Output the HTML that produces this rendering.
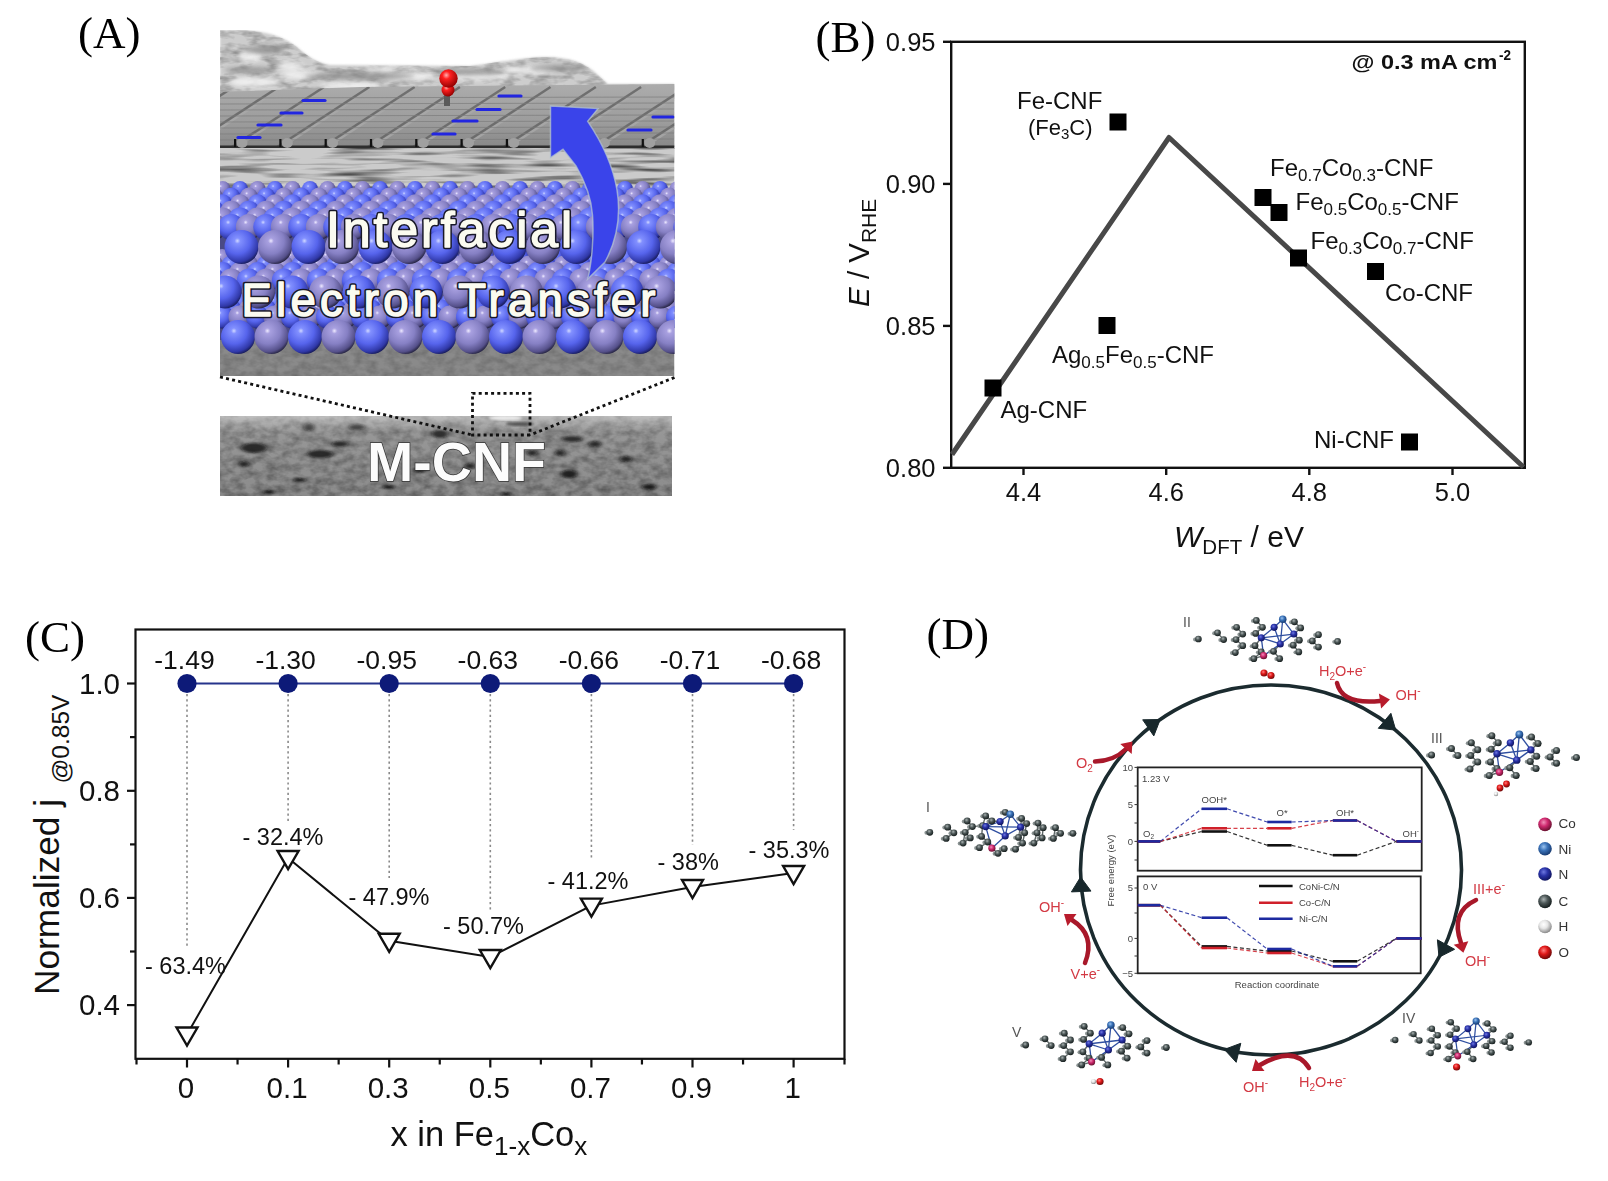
<!DOCTYPE html>
<html><head><meta charset="utf-8"><title>Figure</title>
<style>html,body{margin:0;padding:0;background:#fff;overflow:hidden}svg{display:block}</style>
</head><body>
<svg width="1608" height="1181" viewBox="0 0 1608 1181">
<defs>
<radialGradient id="sB" cx="0.38" cy="0.32" r="0.7"><stop offset="0" stop-color="#d0d8ff"/><stop offset="0.12" stop-color="#8290ff"/><stop offset="0.55" stop-color="#5664ec"/><stop offset="0.88" stop-color="#3038a8"/><stop offset="1" stop-color="#1a1e60"/></radialGradient>
<radialGradient id="sP" cx="0.38" cy="0.32" r="0.7"><stop offset="0" stop-color="#eeeaff"/><stop offset="0.12" stop-color="#a8a0e0"/><stop offset="0.55" stop-color="#8680c4"/><stop offset="0.88" stop-color="#55508a"/><stop offset="1" stop-color="#2a2848"/></radialGradient>
<radialGradient id="sR" cx="0.38" cy="0.32" r="0.7"><stop offset="0" stop-color="#ffb0b0"/><stop offset="0.3" stop-color="#ff2020"/><stop offset="1" stop-color="#900000"/></radialGradient>
<filter id="nz" x="0" y="0" width="1" height="1"><feTurbulence type="fractalNoise" baseFrequency="0.09 0.14" numOctaves="3" seed="3"/><feColorMatrix type="matrix" values="0 0 0 0 0  0 0 0 0 0  0 0 0 0 0  0 0 0 -1.1 0.75"/><feComposite operator="in" in2="SourceAlpha"/></filter>
<filter id="nzc" x="0" y="0" width="1" height="1"><feTurbulence type="fractalNoise" baseFrequency="0.06 0.16" numOctaves="3" seed="11"/><feColorMatrix type="matrix" values="0 0 0 0 0  0 0 0 0 0  0 0 0 0 0  0 0 0 -1.4 0.85"/><feComposite operator="in" in2="SourceAlpha"/></filter>
<filter id="nz2" x="0" y="0" width="1" height="1"><feTurbulence type="fractalNoise" baseFrequency="0.04 0.12" numOctaves="2" seed="8"/><feColorMatrix type="matrix" values="0 0 0 0 1  0 0 0 0 1  0 0 0 0 1  0 0 0 -1.6 1.0"/><feComposite operator="in" in2="SourceAlpha"/></filter>
<linearGradient id="shg" x1="0" y1="0" x2="0" y2="1"><stop offset="0" stop-color="#acacac"/><stop offset="0.6" stop-color="#9c9c9c"/><stop offset="1" stop-color="#868686"/></linearGradient>
<linearGradient id="temg" x1="0" y1="0" x2="0" y2="1"><stop offset="0" stop-color="#fff" stop-opacity="0.45"/><stop offset="0.2" stop-color="#fff" stop-opacity="0.1"/><stop offset="1" stop-color="#fff" stop-opacity="0"/></linearGradient>
<filter id="bl2"><feGaussianBlur stdDeviation="2.2"/></filter>
<filter id="blh" x="-0.5" y="-0.5" width="2" height="2"><feGaussianBlur stdDeviation="2.6 1.1"/></filter>
<filter id="bl1"><feGaussianBlur stdDeviation="1"/></filter>
<clipPath id="cpA"><rect x="220" y="30" width="454.5" height="346"/></clipPath>
<clipPath id="cpC"><path d="M220,30 L240,30 C268,31 284,37 297,47 C307,56 317,63 330,65 L470,66 C500,62 520,58 545,57 C570,57 586,63 598,75 L608,84 L674.5,84 L674.5,160 L220,160 Z"/></clipPath>
<clipPath id="cpS"><path d="M220,92 L360,87 L674.5,84 L674.5,147 L220,149 Z"/></clipPath>
<filter id="nzh" x="0" y="0" width="1" height="1"><feTurbulence type="fractalNoise" baseFrequency="0.015 0.22" numOctaves="2" seed="5"/><feColorMatrix type="matrix" values="0 0 0 0 0  0 0 0 0 0  0 0 0 0 0  0 0 0 -1.8 1.0"/><feComposite operator="in" in2="SourceAlpha"/></filter>
<clipPath id="cpT"><rect x="220" y="416" width="452" height="80"/></clipPath>
<radialGradient id="gC" cx="0.4" cy="0.35" r="0.65"><stop offset="0" stop-color="#aab2b2"/><stop offset="0.45" stop-color="#4e5959"/><stop offset="1" stop-color="#161e1e"/></radialGradient>
<radialGradient id="gN" cx="0.4" cy="0.35" r="0.65"><stop offset="0" stop-color="#6e78e0"/><stop offset="0.45" stop-color="#2a33a8"/><stop offset="1" stop-color="#101560"/></radialGradient>
<radialGradient id="gNi" cx="0.4" cy="0.35" r="0.65"><stop offset="0" stop-color="#9cc4f0"/><stop offset="0.45" stop-color="#3a72b8"/><stop offset="1" stop-color="#173a70"/></radialGradient>
<radialGradient id="gCo" cx="0.4" cy="0.35" r="0.65"><stop offset="0" stop-color="#f090b8"/><stop offset="0.45" stop-color="#d02a70"/><stop offset="1" stop-color="#6a1030"/></radialGradient>
<radialGradient id="gH" cx="0.4" cy="0.35" r="0.65"><stop offset="0" stop-color="#ffffff"/><stop offset="0.45" stop-color="#e6e6e6"/><stop offset="1" stop-color="#8a8a8a"/></radialGradient>
<radialGradient id="gO" cx="0.4" cy="0.35" r="0.65"><stop offset="0" stop-color="#ff8080"/><stop offset="0.45" stop-color="#e01818"/><stop offset="1" stop-color="#700808"/></radialGradient>
<symbol id="mol" overflow="visible">
<g stroke="#5f6868" stroke-width="1.4">
<line x1="-51.0" y1="-6.2" x2="-44.8" y2="0.6"/>
<line x1="-31.7" y1="-11.8" x2="-25.5" y2="-5.0"/>
<line x1="-25.5" y1="-5.0" x2="-32.3" y2="0.6"/>
<line x1="-32.3" y1="0.6" x2="-25.5" y2="6.8"/>
<line x1="-25.5" y1="6.8" x2="-33.0" y2="13.7"/>
<line x1="-11.8" y1="-18.7" x2="-5.6" y2="-11.8"/>
<line x1="-5.6" y1="-11.8" x2="-12.4" y2="-5.6"/>
<line x1="-13.1" y1="6.8" x2="-6.8" y2="13.1"/>
<line x1="-6.8" y1="13.1" x2="-14.3" y2="19.9"/>
<line x1="5.6" y1="12.4" x2="11.8" y2="19.9"/>
<line x1="26.7" y1="-17.4" x2="33.0" y2="-11.2"/>
<line x1="31.7" y1="1.2" x2="25.5" y2="6.2"/>
<line x1="25.5" y1="6.2" x2="31.1" y2="13.1"/>
<line x1="44.8" y1="1.9" x2="51.0" y2="-4.4"/>
<line x1="44.8" y1="1.9" x2="51.0" y2="8.1"/>
<line x1="-6.8" y1="-1.2" x2="-12.4" y2="-5.6"/>
<line x1="-6.8" y1="-1.2" x2="-13.1" y2="6.8"/>
<line x1="26.1" y1="-5.0" x2="33.0" y2="-11.2"/>
<line x1="26.1" y1="-5.0" x2="31.7" y2="1.2"/>
<line x1="12.4" y1="5.0" x2="5.6" y2="12.4"/>
<line x1="-4.4" y1="16.8" x2="-6.8" y2="13.1"/>
<line x1="-4.4" y1="16.8" x2="-14.3" y2="19.9"/>
</g>
<g stroke="#2f4fa0" stroke-width="1.3">
<line x1="-6.8" y1="-1.2" x2="6.2" y2="-11.8"/>
<line x1="6.2" y1="-11.8" x2="14.9" y2="-19.9"/>
<line x1="14.9" y1="-19.9" x2="26.1" y2="-5.0"/>
<line x1="26.1" y1="-5.0" x2="12.4" y2="5.0"/>
<line x1="12.4" y1="5.0" x2="-6.8" y2="-1.2"/>
<line x1="14.9" y1="-19.9" x2="12.4" y2="5.0"/>
<line x1="-6.8" y1="-1.2" x2="26.1" y2="-5.0"/>
<line x1="6.2" y1="-11.8" x2="12.4" y2="5.0"/>
<line x1="-4.4" y1="16.8" x2="12.4" y2="5.0"/>
<line x1="-4.4" y1="16.8" x2="-6.8" y2="-1.2"/>
</g>
<g stroke="#9aa0a0" stroke-width="1">
<line x1="-70.3" y1="0.0" x2="-73.8" y2="0.0"/>
<line x1="-51.0" y1="-6.2" x2="-54.5" y2="-6.2"/>
<line x1="-44.8" y1="0.6" x2="-48.3" y2="0.6"/>
<line x1="-31.7" y1="-11.8" x2="-35.2" y2="-11.8"/>
<line x1="-25.5" y1="-5.0" x2="-29.0" y2="-5.0"/>
<line x1="-32.3" y1="0.6" x2="-35.8" y2="0.6"/>
<line x1="-25.5" y1="6.8" x2="-29.0" y2="6.8"/>
<line x1="-33.0" y1="13.7" x2="-36.5" y2="13.7"/>
<line x1="-11.8" y1="-18.7" x2="-15.3" y2="-18.7"/>
<line x1="-5.6" y1="-11.8" x2="-9.1" y2="-11.8"/>
<line x1="-12.4" y1="-5.6" x2="-15.9" y2="-5.6"/>
<line x1="-13.1" y1="6.8" x2="-16.6" y2="6.8"/>
<line x1="-6.8" y1="13.1" x2="-10.3" y2="13.1"/>
<line x1="-14.3" y1="19.9" x2="-17.8" y2="19.9"/>
<line x1="5.6" y1="12.4" x2="9.1" y2="12.4"/>
<line x1="11.8" y1="19.9" x2="15.3" y2="19.9"/>
<line x1="26.7" y1="-17.4" x2="30.2" y2="-17.4"/>
<line x1="33.0" y1="-11.2" x2="36.5" y2="-11.2"/>
<line x1="31.7" y1="1.2" x2="35.2" y2="1.2"/>
<line x1="25.5" y1="6.2" x2="29.0" y2="6.2"/>
<line x1="31.1" y1="13.1" x2="34.6" y2="13.1"/>
<line x1="44.8" y1="1.9" x2="48.3" y2="1.9"/>
<line x1="51.0" y1="-4.4" x2="54.5" y2="-4.4"/>
<line x1="51.0" y1="8.1" x2="54.5" y2="8.1"/>
<line x1="70.3" y1="2.5" x2="73.8" y2="2.5"/>
</g>
<circle cx="-73.7" cy="0.4" r="2.0" fill="#8a9292"/>
<circle cx="-54.4" cy="-5.8" r="2.0" fill="#8a9292"/>
<circle cx="-48.2" cy="1.0" r="2.0" fill="#8a9292"/>
<circle cx="-35.1" cy="-11.4" r="2.0" fill="#8a9292"/>
<circle cx="-28.9" cy="-4.6" r="2.0" fill="#8a9292"/>
<circle cx="-35.7" cy="1.0" r="2.0" fill="#8a9292"/>
<circle cx="-28.9" cy="7.2" r="2.0" fill="#8a9292"/>
<circle cx="-36.4" cy="14.1" r="2.0" fill="#8a9292"/>
<circle cx="-15.2" cy="-18.3" r="2.0" fill="#8a9292"/>
<circle cx="-9.0" cy="-11.4" r="2.0" fill="#8a9292"/>
<circle cx="-15.8" cy="-5.2" r="2.0" fill="#8a9292"/>
<circle cx="-16.5" cy="7.2" r="2.0" fill="#8a9292"/>
<circle cx="-10.2" cy="13.5" r="2.0" fill="#8a9292"/>
<circle cx="-17.7" cy="20.3" r="2.0" fill="#8a9292"/>
<circle cx="2.2" cy="12.8" r="2.0" fill="#8a9292"/>
<circle cx="8.4" cy="20.3" r="2.0" fill="#8a9292"/>
<circle cx="23.3" cy="-17.0" r="2.0" fill="#8a9292"/>
<circle cx="29.6" cy="-10.8" r="2.0" fill="#8a9292"/>
<circle cx="28.3" cy="1.6" r="2.0" fill="#8a9292"/>
<circle cx="22.1" cy="6.6" r="2.0" fill="#8a9292"/>
<circle cx="27.7" cy="13.5" r="2.0" fill="#8a9292"/>
<circle cx="41.4" cy="2.3" r="2.0" fill="#8a9292"/>
<circle cx="47.6" cy="-4.0" r="2.0" fill="#8a9292"/>
<circle cx="47.6" cy="8.5" r="2.0" fill="#8a9292"/>
<circle cx="66.9" cy="2.9" r="2.0" fill="#8a9292"/>
<circle cx="-70.3" cy="0.0" r="3.4" fill="url(#gC)"/>
<circle cx="-51.0" cy="-6.2" r="3.4" fill="url(#gC)"/>
<circle cx="-44.8" cy="0.6" r="3.4" fill="url(#gC)"/>
<circle cx="-31.7" cy="-11.8" r="3.4" fill="url(#gC)"/>
<circle cx="-25.5" cy="-5.0" r="3.4" fill="url(#gC)"/>
<circle cx="-32.3" cy="0.6" r="3.4" fill="url(#gC)"/>
<circle cx="-25.5" cy="6.8" r="3.4" fill="url(#gC)"/>
<circle cx="-33.0" cy="13.7" r="3.4" fill="url(#gC)"/>
<circle cx="-11.8" cy="-18.7" r="3.4" fill="url(#gC)"/>
<circle cx="-5.6" cy="-11.8" r="3.4" fill="url(#gC)"/>
<circle cx="-12.4" cy="-5.6" r="3.4" fill="url(#gC)"/>
<circle cx="-13.1" cy="6.8" r="3.4" fill="url(#gC)"/>
<circle cx="-6.8" cy="13.1" r="3.4" fill="url(#gC)"/>
<circle cx="-14.3" cy="19.9" r="3.4" fill="url(#gC)"/>
<circle cx="5.6" cy="12.4" r="3.4" fill="url(#gC)"/>
<circle cx="11.8" cy="19.9" r="3.4" fill="url(#gC)"/>
<circle cx="26.7" cy="-17.4" r="3.4" fill="url(#gC)"/>
<circle cx="33.0" cy="-11.2" r="3.4" fill="url(#gC)"/>
<circle cx="31.7" cy="1.2" r="3.4" fill="url(#gC)"/>
<circle cx="25.5" cy="6.2" r="3.4" fill="url(#gC)"/>
<circle cx="31.1" cy="13.1" r="3.4" fill="url(#gC)"/>
<circle cx="44.8" cy="1.9" r="3.4" fill="url(#gC)"/>
<circle cx="51.0" cy="-4.4" r="3.4" fill="url(#gC)"/>
<circle cx="51.0" cy="8.1" r="3.4" fill="url(#gC)"/>
<circle cx="70.3" cy="2.5" r="3.4" fill="url(#gC)"/>
<circle cx="-6.8" cy="-1.2" r="3.6" fill="url(#gN)"/>
<circle cx="6.2" cy="-11.8" r="3.6" fill="url(#gN)"/>
<circle cx="26.1" cy="-5.0" r="3.6" fill="url(#gN)"/>
<circle cx="12.4" cy="5.0" r="3.6" fill="url(#gN)"/>
<circle cx="14.9" cy="-19.9" r="3.8" fill="url(#gNi)"/>
<circle cx="-4.4" cy="16.8" r="3.6" fill="url(#gCo)"/>
</symbol>
<symbol id="mol1" overflow="visible">
<g stroke="#5f6868" stroke-width="1.4">
<line x1="-53.6" y1="-5.6" x2="-47.4" y2="0.0"/>
<line x1="-47.4" y1="0.0" x2="-55.1" y2="5.6"/>
<line x1="-34.1" y1="-11.8" x2="-28.9" y2="-6.2"/>
<line x1="-28.9" y1="-6.2" x2="-36.1" y2="-0.5"/>
<line x1="-28.9" y1="-6.2" x2="-18.7" y2="-7.2"/>
<line x1="-36.1" y1="-0.5" x2="-31.0" y2="5.1"/>
<line x1="-36.1" y1="-0.5" x2="-38.2" y2="10.3"/>
<line x1="-31.0" y1="5.1" x2="-38.2" y2="10.3"/>
<line x1="-15.6" y1="-16.9" x2="-9.4" y2="-11.8"/>
<line x1="-15.6" y1="-16.9" x2="-18.7" y2="-7.2"/>
<line x1="-9.4" y1="-11.8" x2="-18.7" y2="-7.2"/>
<line x1="-18.7" y1="-7.2" x2="-19.7" y2="3.6"/>
<line x1="-19.7" y1="3.6" x2="-13.5" y2="9.2"/>
<line x1="-13.5" y1="9.2" x2="-21.8" y2="14.9"/>
<line x1="-3.3" y1="20.5" x2="2.9" y2="15.9"/>
<line x1="14.2" y1="16.4" x2="21.3" y2="10.3"/>
<line x1="20.3" y1="-14.4" x2="25.4" y2="-9.2"/>
<line x1="25.4" y1="-9.2" x2="23.4" y2="0.0"/>
<line x1="23.4" y1="0.0" x2="17.2" y2="4.6"/>
<line x1="23.4" y1="0.0" x2="21.3" y2="10.3"/>
<line x1="17.2" y1="4.6" x2="21.3" y2="10.3"/>
<line x1="36.7" y1="-9.7" x2="41.9" y2="-5.1"/>
<line x1="36.7" y1="-9.7" x2="35.7" y2="0.0"/>
<line x1="41.9" y1="-5.1" x2="35.7" y2="0.0"/>
<line x1="41.9" y1="-5.1" x2="40.8" y2="5.1"/>
<line x1="35.7" y1="0.0" x2="40.8" y2="5.1"/>
<line x1="35.7" y1="0.0" x2="32.6" y2="10.3"/>
<line x1="40.8" y1="5.1" x2="32.6" y2="10.3"/>
<line x1="54.2" y1="-5.1" x2="59.3" y2="0.5"/>
<line x1="54.2" y1="-5.1" x2="52.1" y2="5.6"/>
<line x1="59.3" y1="0.5" x2="52.1" y2="5.6"/>
<line x1="-15.6" y1="-6.2" x2="-9.4" y2="-11.8"/>
<line x1="-15.6" y1="-6.2" x2="-18.7" y2="-7.2"/>
<line x1="-1.2" y1="-11.3" x2="-9.4" y2="-11.8"/>
<line x1="19.3" y1="-5.6" x2="20.3" y2="-14.4"/>
<line x1="19.3" y1="-5.6" x2="25.4" y2="-9.2"/>
<line x1="19.3" y1="-5.6" x2="23.4" y2="0.0"/>
<line x1="19.3" y1="-5.6" x2="17.2" y2="4.6"/>
<line x1="-9.4" y1="15.4" x2="-13.5" y2="9.2"/>
<line x1="-9.4" y1="15.4" x2="-3.3" y2="20.5"/>
</g>
<g stroke="#2f4fa0" stroke-width="1.3">
<line x1="-15.6" y1="-6.2" x2="-1.2" y2="-11.3"/>
<line x1="-1.2" y1="-11.3" x2="9.0" y2="-18.5"/>
<line x1="9.0" y1="-18.5" x2="19.3" y2="-5.6"/>
<line x1="19.3" y1="-5.6" x2="3.9" y2="3.1"/>
<line x1="3.9" y1="3.1" x2="-15.6" y2="-6.2"/>
<line x1="9.0" y1="-18.5" x2="3.9" y2="3.1"/>
<line x1="-15.6" y1="-6.2" x2="19.3" y2="-5.6"/>
<line x1="-1.2" y1="-11.3" x2="3.9" y2="3.1"/>
<line x1="-9.4" y1="15.4" x2="3.9" y2="3.1"/>
<line x1="-9.4" y1="15.4" x2="-15.6" y2="-6.2"/>
</g>
<g stroke="#9aa0a0" stroke-width="1">
<line x1="-71.5" y1="-0.5" x2="-75.0" y2="-0.5"/>
<line x1="-53.6" y1="-5.6" x2="-57.1" y2="-5.6"/>
<line x1="-47.4" y1="0.0" x2="-50.9" y2="0.0"/>
<line x1="-55.1" y1="5.6" x2="-58.6" y2="5.6"/>
<line x1="-34.1" y1="-11.8" x2="-37.6" y2="-11.8"/>
<line x1="-28.9" y1="-6.2" x2="-32.4" y2="-6.2"/>
<line x1="-36.1" y1="-0.5" x2="-39.6" y2="-0.5"/>
<line x1="-31.0" y1="5.1" x2="-34.5" y2="5.1"/>
<line x1="-38.2" y1="10.3" x2="-41.7" y2="10.3"/>
<line x1="-15.6" y1="-16.9" x2="-19.1" y2="-16.9"/>
<line x1="-9.4" y1="-11.8" x2="-12.9" y2="-11.8"/>
<line x1="-18.7" y1="-7.2" x2="-22.2" y2="-7.2"/>
<line x1="-19.7" y1="3.6" x2="-23.2" y2="3.6"/>
<line x1="-13.5" y1="9.2" x2="-17.0" y2="9.2"/>
<line x1="-21.8" y1="14.9" x2="-25.3" y2="14.9"/>
<line x1="3.9" y1="-20.5" x2="7.4" y2="-20.5"/>
<line x1="-3.3" y1="20.5" x2="-6.8" y2="20.5"/>
<line x1="2.9" y1="15.9" x2="6.4" y2="15.9"/>
<line x1="14.2" y1="16.4" x2="17.7" y2="16.4"/>
<line x1="20.3" y1="-14.4" x2="23.8" y2="-14.4"/>
<line x1="25.4" y1="-9.2" x2="28.9" y2="-9.2"/>
<line x1="23.4" y1="0.0" x2="26.9" y2="0.0"/>
<line x1="17.2" y1="4.6" x2="20.7" y2="4.6"/>
<line x1="21.3" y1="10.3" x2="24.8" y2="10.3"/>
<line x1="36.7" y1="-9.7" x2="40.2" y2="-9.7"/>
<line x1="41.9" y1="-5.1" x2="45.4" y2="-5.1"/>
<line x1="35.7" y1="0.0" x2="39.2" y2="0.0"/>
<line x1="40.8" y1="5.1" x2="44.3" y2="5.1"/>
<line x1="32.6" y1="10.3" x2="36.1" y2="10.3"/>
<line x1="54.2" y1="-5.1" x2="57.7" y2="-5.1"/>
<line x1="59.3" y1="0.5" x2="62.8" y2="0.5"/>
<line x1="52.1" y1="5.6" x2="55.6" y2="5.6"/>
<line x1="71.6" y1="0.5" x2="75.1" y2="0.5"/>
</g>
<circle cx="-74.9" cy="-0.1" r="2.0" fill="#8a9292"/>
<circle cx="-57.0" cy="-5.2" r="2.0" fill="#8a9292"/>
<circle cx="-50.8" cy="0.4" r="2.0" fill="#8a9292"/>
<circle cx="-58.5" cy="6.0" r="2.0" fill="#8a9292"/>
<circle cx="-37.5" cy="-11.4" r="2.0" fill="#8a9292"/>
<circle cx="-32.3" cy="-5.8" r="2.0" fill="#8a9292"/>
<circle cx="-39.5" cy="-0.1" r="2.0" fill="#8a9292"/>
<circle cx="-34.4" cy="5.5" r="2.0" fill="#8a9292"/>
<circle cx="-41.6" cy="10.7" r="2.0" fill="#8a9292"/>
<circle cx="-19.0" cy="-16.5" r="2.0" fill="#8a9292"/>
<circle cx="-12.8" cy="-11.4" r="2.0" fill="#8a9292"/>
<circle cx="-22.1" cy="-6.8" r="2.0" fill="#8a9292"/>
<circle cx="-23.1" cy="4.0" r="2.0" fill="#8a9292"/>
<circle cx="-16.9" cy="9.6" r="2.0" fill="#8a9292"/>
<circle cx="-25.2" cy="15.3" r="2.0" fill="#8a9292"/>
<circle cx="0.5" cy="-20.1" r="2.0" fill="#8a9292"/>
<circle cx="-6.7" cy="20.9" r="2.0" fill="#8a9292"/>
<circle cx="-0.5" cy="16.3" r="2.0" fill="#8a9292"/>
<circle cx="10.8" cy="16.8" r="2.0" fill="#8a9292"/>
<circle cx="16.9" cy="-14.0" r="2.0" fill="#8a9292"/>
<circle cx="22.0" cy="-8.8" r="2.0" fill="#8a9292"/>
<circle cx="20.0" cy="0.4" r="2.0" fill="#8a9292"/>
<circle cx="13.8" cy="5.0" r="2.0" fill="#8a9292"/>
<circle cx="17.9" cy="10.7" r="2.0" fill="#8a9292"/>
<circle cx="33.3" cy="-9.3" r="2.0" fill="#8a9292"/>
<circle cx="38.5" cy="-4.7" r="2.0" fill="#8a9292"/>
<circle cx="32.3" cy="0.4" r="2.0" fill="#8a9292"/>
<circle cx="37.4" cy="5.5" r="2.0" fill="#8a9292"/>
<circle cx="29.2" cy="10.7" r="2.0" fill="#8a9292"/>
<circle cx="50.8" cy="-4.7" r="2.0" fill="#8a9292"/>
<circle cx="55.9" cy="0.9" r="2.0" fill="#8a9292"/>
<circle cx="48.7" cy="6.0" r="2.0" fill="#8a9292"/>
<circle cx="68.2" cy="0.9" r="2.0" fill="#8a9292"/>
<circle cx="-71.5" cy="-0.5" r="3.4" fill="url(#gC)"/>
<circle cx="-53.6" cy="-5.6" r="3.4" fill="url(#gC)"/>
<circle cx="-47.4" cy="0.0" r="3.4" fill="url(#gC)"/>
<circle cx="-55.1" cy="5.6" r="3.4" fill="url(#gC)"/>
<circle cx="-34.1" cy="-11.8" r="3.4" fill="url(#gC)"/>
<circle cx="-28.9" cy="-6.2" r="3.4" fill="url(#gC)"/>
<circle cx="-36.1" cy="-0.5" r="3.4" fill="url(#gC)"/>
<circle cx="-31.0" cy="5.1" r="3.4" fill="url(#gC)"/>
<circle cx="-38.2" cy="10.3" r="3.4" fill="url(#gC)"/>
<circle cx="-15.6" cy="-16.9" r="3.4" fill="url(#gC)"/>
<circle cx="-9.4" cy="-11.8" r="3.4" fill="url(#gC)"/>
<circle cx="-18.7" cy="-7.2" r="3.4" fill="url(#gC)"/>
<circle cx="-19.7" cy="3.6" r="3.4" fill="url(#gC)"/>
<circle cx="-13.5" cy="9.2" r="3.4" fill="url(#gC)"/>
<circle cx="-21.8" cy="14.9" r="3.4" fill="url(#gC)"/>
<circle cx="3.9" cy="-20.5" r="3.4" fill="url(#gC)"/>
<circle cx="-3.3" cy="20.5" r="3.4" fill="url(#gC)"/>
<circle cx="2.9" cy="15.9" r="3.4" fill="url(#gC)"/>
<circle cx="14.2" cy="16.4" r="3.4" fill="url(#gC)"/>
<circle cx="20.3" cy="-14.4" r="3.4" fill="url(#gC)"/>
<circle cx="25.4" cy="-9.2" r="3.4" fill="url(#gC)"/>
<circle cx="23.4" cy="0.0" r="3.4" fill="url(#gC)"/>
<circle cx="17.2" cy="4.6" r="3.4" fill="url(#gC)"/>
<circle cx="21.3" cy="10.3" r="3.4" fill="url(#gC)"/>
<circle cx="36.7" cy="-9.7" r="3.4" fill="url(#gC)"/>
<circle cx="41.9" cy="-5.1" r="3.4" fill="url(#gC)"/>
<circle cx="35.7" cy="0.0" r="3.4" fill="url(#gC)"/>
<circle cx="40.8" cy="5.1" r="3.4" fill="url(#gC)"/>
<circle cx="32.6" cy="10.3" r="3.4" fill="url(#gC)"/>
<circle cx="54.2" cy="-5.1" r="3.4" fill="url(#gC)"/>
<circle cx="59.3" cy="0.5" r="3.4" fill="url(#gC)"/>
<circle cx="52.1" cy="5.6" r="3.4" fill="url(#gC)"/>
<circle cx="71.6" cy="0.5" r="3.4" fill="url(#gC)"/>
<circle cx="-15.6" cy="-6.2" r="3.6" fill="url(#gN)"/>
<circle cx="-1.2" cy="-11.3" r="3.6" fill="url(#gN)"/>
<circle cx="19.3" cy="-5.6" r="3.6" fill="url(#gN)"/>
<circle cx="3.9" cy="3.1" r="3.6" fill="url(#gN)"/>
<circle cx="9.0" cy="-18.5" r="3.8" fill="url(#gNi)"/>
<circle cx="-9.4" cy="15.4" r="3.6" fill="url(#gCo)"/>
</symbol>
</defs>
<rect width="1608" height="1181" fill="#fff"/>
<g clip-path="url(#cpA)">
<path d="M220,30 L240,30 C268,31 284,37 297,47 C307,56 317,63 330,65 L470,66 C500,62 520,58 545,57 C570,57 586,63 598,75 L608,84 L674.5,84 L674.5,160 L220,160 Z" fill="#cdcdcd" filter="url(#bl1)"/>
<path d="M220,30 L240,30 C268,31 284,37 297,47 C307,56 317,63 330,65 L470,66 C500,62 520,58 545,57 C570,57 586,63 598,75 L608,84 L674.5,84 L674.5,160 L220,160 Z" fill="#000" filter="url(#nzc)" opacity="0.45"/>
<g filter="url(#bl2)" fill="#f4f4f4" opacity="0.85">
<ellipse cx="255" cy="82" rx="25" ry="5"/>
<ellipse cx="300" cy="75" rx="20" ry="4"/>
<ellipse cx="350" cy="86" rx="30" ry="4"/>
<ellipse cx="410" cy="76" rx="25" ry="4"/>
<ellipse cx="480" cy="76" rx="30" ry="4"/>
<ellipse cx="530" cy="70" rx="25" ry="4"/>
<ellipse cx="250" cy="56" rx="12" ry="6"/>
<ellipse cx="290" cy="66" rx="14" ry="4"/>
<ellipse cx="380" cy="70" rx="14" ry="3"/>
</g>
<g clip-path="url(#cpC)"><g filter="url(#bl2)" fill="#8e8e8e" opacity="0.8">
<ellipse cx="360" cy="76" rx="55" ry="3.5"/>
<ellipse cx="470" cy="72" rx="35" ry="3"/>
<ellipse cx="250" cy="70" rx="25" ry="3"/>
<ellipse cx="265" cy="50" rx="20" ry="4"/>
<ellipse cx="560" cy="68" rx="30" ry="3"/>
</g></g>
<path d="M220,92 L360,87 L674.5,84 L674.5,147 L220,149 Z" fill="url(#shg)"/>
<g clip-path="url(#cpS)">
<g stroke="#a9a9a9" stroke-width="3" opacity="0.8">
<line x1="145.4" y1="147" x2="237.4" y2="87"/>
<line x1="190.7" y1="147" x2="282.7" y2="87"/>
<line x1="236.0" y1="147" x2="328.0" y2="87"/>
<line x1="281.3" y1="147" x2="373.3" y2="87"/>
<line x1="326.6" y1="147" x2="418.6" y2="87"/>
<line x1="371.9" y1="147" x2="463.9" y2="87"/>
<line x1="417.2" y1="147" x2="509.2" y2="87"/>
<line x1="462.5" y1="147" x2="554.5" y2="87"/>
<line x1="507.8" y1="147" x2="599.8" y2="87"/>
<line x1="553.1" y1="147" x2="645.1" y2="87"/>
<line x1="598.4" y1="147" x2="690.4" y2="87"/>
<line x1="643.7" y1="147" x2="735.7" y2="87"/>
<line x1="689.0" y1="147" x2="781.0" y2="87"/>
</g>
<g stroke="#666" stroke-width="2.5" opacity="0.85">
<line x1="141.4" y1="147" x2="233.4" y2="87"/>
<line x1="186.7" y1="147" x2="278.7" y2="87"/>
<line x1="232.0" y1="147" x2="324.0" y2="87"/>
<line x1="277.3" y1="147" x2="369.3" y2="87"/>
<line x1="322.6" y1="147" x2="414.6" y2="87"/>
<line x1="367.9" y1="147" x2="459.9" y2="87"/>
<line x1="413.2" y1="147" x2="505.2" y2="87"/>
<line x1="458.5" y1="147" x2="550.5" y2="87"/>
<line x1="503.8" y1="147" x2="595.8" y2="87"/>
<line x1="549.1" y1="147" x2="641.1" y2="87"/>
<line x1="594.4" y1="147" x2="686.4" y2="87"/>
<line x1="639.7" y1="147" x2="731.7" y2="87"/>
<line x1="685.0" y1="147" x2="777.0" y2="87"/>
</g>
<g stroke="#7c7c7c" stroke-width="1" opacity="0.7">
<line x1="220" y1="98" x2="674" y2="97"/>
<line x1="220" y1="104" x2="674" y2="103"/>
<line x1="220" y1="110" x2="674" y2="109"/>
<line x1="220" y1="116" x2="674" y2="115"/>
<line x1="220" y1="122" x2="674" y2="121"/>
<line x1="220" y1="128" x2="674" y2="127"/>
<line x1="220" y1="134" x2="674" y2="133"/>
<line x1="220" y1="140" x2="674" y2="139"/>
</g>
</g>
<rect x="220" y="145.5" width="454.5" height="3.5" fill="#2e2e2e"/>
<ellipse cx="242.0" cy="143" rx="5.5" ry="5" fill="#a0a0a0"/>
<rect x="234.0" y="139" width="2.2" height="8" fill="#111"/>
<ellipse cx="287.3" cy="143" rx="5.5" ry="5" fill="#a0a0a0"/>
<rect x="279.3" y="139" width="2.2" height="8" fill="#111"/>
<ellipse cx="332.6" cy="143" rx="5.5" ry="5" fill="#a0a0a0"/>
<rect x="324.6" y="139" width="2.2" height="8" fill="#111"/>
<ellipse cx="377.9" cy="143" rx="5.5" ry="5" fill="#a0a0a0"/>
<rect x="369.9" y="139" width="2.2" height="8" fill="#111"/>
<ellipse cx="423.2" cy="143" rx="5.5" ry="5" fill="#a0a0a0"/>
<rect x="415.2" y="139" width="2.2" height="8" fill="#111"/>
<ellipse cx="468.5" cy="143" rx="5.5" ry="5" fill="#a0a0a0"/>
<rect x="460.5" y="139" width="2.2" height="8" fill="#111"/>
<ellipse cx="513.8" cy="143" rx="5.5" ry="5" fill="#a0a0a0"/>
<rect x="505.8" y="139" width="2.2" height="8" fill="#111"/>
<ellipse cx="559.1" cy="143" rx="5.5" ry="5" fill="#a0a0a0"/>
<rect x="551.1" y="139" width="2.2" height="8" fill="#111"/>
<ellipse cx="604.4" cy="143" rx="5.5" ry="5" fill="#a0a0a0"/>
<rect x="596.4" y="139" width="2.2" height="8" fill="#111"/>
<ellipse cx="649.7" cy="143" rx="5.5" ry="5" fill="#a0a0a0"/>
<rect x="641.7" y="139" width="2.2" height="8" fill="#111"/>
<g stroke="#2226e0" stroke-width="3.2" stroke-linecap="round">
<line x1="238" y1="137.5" x2="260" y2="137.5"/>
<line x1="258" y1="125" x2="281" y2="125"/>
<line x1="281" y1="113" x2="302" y2="113"/>
<line x1="303" y1="100.5" x2="325" y2="100.5"/>
<line x1="433" y1="134" x2="455" y2="134"/>
<line x1="453" y1="121" x2="477" y2="121"/>
<line x1="477" y1="109.5" x2="500" y2="109.5"/>
<line x1="499" y1="96" x2="521" y2="96"/>
<line x1="628" y1="130" x2="651" y2="130"/>
<line x1="653" y1="117" x2="673" y2="117"/>
</g>
<rect x="444" y="90" width="6" height="16" fill="#5a5a5a"/>
<circle cx="448" cy="90" r="6.5" fill="url(#sR)"/>
<circle cx="448.5" cy="78.5" r="9.2" fill="url(#sR)"/>
<rect x="220" y="148" width="454.5" height="40" fill="#cbcbcb"/>
<rect x="220" y="148" width="454.5" height="40" fill="#000" filter="url(#nzh)" opacity="0.85"/>
<rect x="220" y="190" width="454.5" height="164" fill="#4a4a86"/>
<circle cx="205.0" cy="189.0" r="8.0" fill="url(#sB)"/>
<circle cx="222.5" cy="189.0" r="8.0" fill="url(#sP)"/>
<circle cx="240.0" cy="189.0" r="8.0" fill="url(#sB)"/>
<circle cx="257.5" cy="189.0" r="8.0" fill="url(#sP)"/>
<circle cx="275.0" cy="189.0" r="8.0" fill="url(#sB)"/>
<circle cx="292.5" cy="189.0" r="8.0" fill="url(#sP)"/>
<circle cx="310.0" cy="189.0" r="8.0" fill="url(#sB)"/>
<circle cx="327.5" cy="189.0" r="8.0" fill="url(#sP)"/>
<circle cx="345.0" cy="189.0" r="8.0" fill="url(#sB)"/>
<circle cx="362.5" cy="189.0" r="8.0" fill="url(#sP)"/>
<circle cx="380.0" cy="189.0" r="8.0" fill="url(#sB)"/>
<circle cx="397.5" cy="189.0" r="8.0" fill="url(#sP)"/>
<circle cx="415.0" cy="189.0" r="8.0" fill="url(#sB)"/>
<circle cx="432.5" cy="189.0" r="8.0" fill="url(#sP)"/>
<circle cx="450.0" cy="189.0" r="8.0" fill="url(#sB)"/>
<circle cx="467.5" cy="189.0" r="8.0" fill="url(#sP)"/>
<circle cx="485.0" cy="189.0" r="8.0" fill="url(#sB)"/>
<circle cx="502.5" cy="189.0" r="8.0" fill="url(#sP)"/>
<circle cx="520.0" cy="189.0" r="8.0" fill="url(#sB)"/>
<circle cx="537.5" cy="189.0" r="8.0" fill="url(#sP)"/>
<circle cx="555.0" cy="189.0" r="8.0" fill="url(#sB)"/>
<circle cx="572.5" cy="189.0" r="8.0" fill="url(#sP)"/>
<circle cx="590.0" cy="189.0" r="8.0" fill="url(#sB)"/>
<circle cx="607.5" cy="189.0" r="8.0" fill="url(#sP)"/>
<circle cx="625.0" cy="189.0" r="8.0" fill="url(#sB)"/>
<circle cx="642.5" cy="189.0" r="8.0" fill="url(#sP)"/>
<circle cx="660.0" cy="189.0" r="8.0" fill="url(#sB)"/>
<circle cx="677.5" cy="189.0" r="8.0" fill="url(#sP)"/>
<circle cx="695.0" cy="189.0" r="8.0" fill="url(#sB)"/>
<circle cx="196.2" cy="196.6" r="9.0" fill="url(#sB)"/>
<circle cx="213.8" cy="196.6" r="9.0" fill="url(#sP)"/>
<circle cx="231.2" cy="196.6" r="9.0" fill="url(#sB)"/>
<circle cx="248.8" cy="196.6" r="9.0" fill="url(#sP)"/>
<circle cx="266.2" cy="196.6" r="9.0" fill="url(#sB)"/>
<circle cx="283.8" cy="196.6" r="9.0" fill="url(#sP)"/>
<circle cx="301.2" cy="196.6" r="9.0" fill="url(#sB)"/>
<circle cx="318.8" cy="196.6" r="9.0" fill="url(#sP)"/>
<circle cx="336.2" cy="196.6" r="9.0" fill="url(#sB)"/>
<circle cx="353.8" cy="196.6" r="9.0" fill="url(#sP)"/>
<circle cx="371.2" cy="196.6" r="9.0" fill="url(#sB)"/>
<circle cx="388.8" cy="196.6" r="9.0" fill="url(#sP)"/>
<circle cx="406.2" cy="196.6" r="9.0" fill="url(#sB)"/>
<circle cx="423.8" cy="196.6" r="9.0" fill="url(#sP)"/>
<circle cx="441.2" cy="196.6" r="9.0" fill="url(#sB)"/>
<circle cx="458.8" cy="196.6" r="9.0" fill="url(#sP)"/>
<circle cx="476.2" cy="196.6" r="9.0" fill="url(#sB)"/>
<circle cx="493.8" cy="196.6" r="9.0" fill="url(#sP)"/>
<circle cx="511.2" cy="196.6" r="9.0" fill="url(#sB)"/>
<circle cx="528.8" cy="196.6" r="9.0" fill="url(#sP)"/>
<circle cx="546.2" cy="196.6" r="9.0" fill="url(#sB)"/>
<circle cx="563.8" cy="196.6" r="9.0" fill="url(#sP)"/>
<circle cx="581.2" cy="196.6" r="9.0" fill="url(#sB)"/>
<circle cx="598.8" cy="196.6" r="9.0" fill="url(#sP)"/>
<circle cx="616.2" cy="196.6" r="9.0" fill="url(#sB)"/>
<circle cx="633.8" cy="196.6" r="9.0" fill="url(#sP)"/>
<circle cx="651.2" cy="196.6" r="9.0" fill="url(#sB)"/>
<circle cx="668.8" cy="196.6" r="9.0" fill="url(#sP)"/>
<circle cx="686.2" cy="196.6" r="9.0" fill="url(#sB)"/>
<circle cx="187.5" cy="204.2" r="10.0" fill="url(#sB)"/>
<circle cx="205.0" cy="204.2" r="10.0" fill="url(#sP)"/>
<circle cx="222.5" cy="204.2" r="10.0" fill="url(#sB)"/>
<circle cx="240.0" cy="204.2" r="10.0" fill="url(#sP)"/>
<circle cx="257.5" cy="204.2" r="10.0" fill="url(#sB)"/>
<circle cx="275.0" cy="204.2" r="10.0" fill="url(#sP)"/>
<circle cx="292.5" cy="204.2" r="10.0" fill="url(#sB)"/>
<circle cx="310.0" cy="204.2" r="10.0" fill="url(#sP)"/>
<circle cx="327.5" cy="204.2" r="10.0" fill="url(#sB)"/>
<circle cx="345.0" cy="204.2" r="10.0" fill="url(#sP)"/>
<circle cx="362.5" cy="204.2" r="10.0" fill="url(#sB)"/>
<circle cx="380.0" cy="204.2" r="10.0" fill="url(#sP)"/>
<circle cx="397.5" cy="204.2" r="10.0" fill="url(#sB)"/>
<circle cx="415.0" cy="204.2" r="10.0" fill="url(#sP)"/>
<circle cx="432.5" cy="204.2" r="10.0" fill="url(#sB)"/>
<circle cx="450.0" cy="204.2" r="10.0" fill="url(#sP)"/>
<circle cx="467.5" cy="204.2" r="10.0" fill="url(#sB)"/>
<circle cx="485.0" cy="204.2" r="10.0" fill="url(#sP)"/>
<circle cx="502.5" cy="204.2" r="10.0" fill="url(#sB)"/>
<circle cx="520.0" cy="204.2" r="10.0" fill="url(#sP)"/>
<circle cx="537.5" cy="204.2" r="10.0" fill="url(#sB)"/>
<circle cx="555.0" cy="204.2" r="10.0" fill="url(#sP)"/>
<circle cx="572.5" cy="204.2" r="10.0" fill="url(#sB)"/>
<circle cx="590.0" cy="204.2" r="10.0" fill="url(#sP)"/>
<circle cx="607.5" cy="204.2" r="10.0" fill="url(#sB)"/>
<circle cx="625.0" cy="204.2" r="10.0" fill="url(#sP)"/>
<circle cx="642.5" cy="204.2" r="10.0" fill="url(#sB)"/>
<circle cx="660.0" cy="204.2" r="10.0" fill="url(#sP)"/>
<circle cx="677.5" cy="204.2" r="10.0" fill="url(#sB)"/>
<circle cx="695.0" cy="204.2" r="10.0" fill="url(#sP)"/>
<circle cx="178.8" cy="211.8" r="11.0" fill="url(#sB)"/>
<circle cx="196.2" cy="211.8" r="11.0" fill="url(#sP)"/>
<circle cx="213.8" cy="211.8" r="11.0" fill="url(#sB)"/>
<circle cx="231.2" cy="211.8" r="11.0" fill="url(#sP)"/>
<circle cx="248.8" cy="211.8" r="11.0" fill="url(#sB)"/>
<circle cx="266.2" cy="211.8" r="11.0" fill="url(#sP)"/>
<circle cx="283.8" cy="211.8" r="11.0" fill="url(#sB)"/>
<circle cx="301.2" cy="211.8" r="11.0" fill="url(#sP)"/>
<circle cx="318.8" cy="211.8" r="11.0" fill="url(#sB)"/>
<circle cx="336.2" cy="211.8" r="11.0" fill="url(#sP)"/>
<circle cx="353.8" cy="211.8" r="11.0" fill="url(#sB)"/>
<circle cx="371.2" cy="211.8" r="11.0" fill="url(#sP)"/>
<circle cx="388.8" cy="211.8" r="11.0" fill="url(#sB)"/>
<circle cx="406.2" cy="211.8" r="11.0" fill="url(#sP)"/>
<circle cx="423.8" cy="211.8" r="11.0" fill="url(#sB)"/>
<circle cx="441.2" cy="211.8" r="11.0" fill="url(#sP)"/>
<circle cx="458.8" cy="211.8" r="11.0" fill="url(#sB)"/>
<circle cx="476.2" cy="211.8" r="11.0" fill="url(#sP)"/>
<circle cx="493.8" cy="211.8" r="11.0" fill="url(#sB)"/>
<circle cx="511.2" cy="211.8" r="11.0" fill="url(#sP)"/>
<circle cx="528.8" cy="211.8" r="11.0" fill="url(#sB)"/>
<circle cx="546.2" cy="211.8" r="11.0" fill="url(#sP)"/>
<circle cx="563.8" cy="211.8" r="11.0" fill="url(#sB)"/>
<circle cx="581.2" cy="211.8" r="11.0" fill="url(#sP)"/>
<circle cx="598.8" cy="211.8" r="11.0" fill="url(#sB)"/>
<circle cx="616.2" cy="211.8" r="11.0" fill="url(#sP)"/>
<circle cx="633.8" cy="211.8" r="11.0" fill="url(#sB)"/>
<circle cx="651.2" cy="211.8" r="11.0" fill="url(#sP)"/>
<circle cx="668.8" cy="211.8" r="11.0" fill="url(#sB)"/>
<circle cx="686.2" cy="211.8" r="11.0" fill="url(#sP)"/>
<circle cx="170.0" cy="219.4" r="12.0" fill="url(#sB)"/>
<circle cx="187.5" cy="219.4" r="12.0" fill="url(#sP)"/>
<circle cx="205.0" cy="219.4" r="12.0" fill="url(#sB)"/>
<circle cx="222.5" cy="219.4" r="12.0" fill="url(#sP)"/>
<circle cx="240.0" cy="219.4" r="12.0" fill="url(#sB)"/>
<circle cx="257.5" cy="219.4" r="12.0" fill="url(#sP)"/>
<circle cx="275.0" cy="219.4" r="12.0" fill="url(#sB)"/>
<circle cx="292.5" cy="219.4" r="12.0" fill="url(#sP)"/>
<circle cx="310.0" cy="219.4" r="12.0" fill="url(#sB)"/>
<circle cx="327.5" cy="219.4" r="12.0" fill="url(#sP)"/>
<circle cx="345.0" cy="219.4" r="12.0" fill="url(#sB)"/>
<circle cx="362.5" cy="219.4" r="12.0" fill="url(#sP)"/>
<circle cx="380.0" cy="219.4" r="12.0" fill="url(#sB)"/>
<circle cx="397.5" cy="219.4" r="12.0" fill="url(#sP)"/>
<circle cx="415.0" cy="219.4" r="12.0" fill="url(#sB)"/>
<circle cx="432.5" cy="219.4" r="12.0" fill="url(#sP)"/>
<circle cx="450.0" cy="219.4" r="12.0" fill="url(#sB)"/>
<circle cx="467.5" cy="219.4" r="12.0" fill="url(#sP)"/>
<circle cx="485.0" cy="219.4" r="12.0" fill="url(#sB)"/>
<circle cx="502.5" cy="219.4" r="12.0" fill="url(#sP)"/>
<circle cx="520.0" cy="219.4" r="12.0" fill="url(#sB)"/>
<circle cx="537.5" cy="219.4" r="12.0" fill="url(#sP)"/>
<circle cx="555.0" cy="219.4" r="12.0" fill="url(#sB)"/>
<circle cx="572.5" cy="219.4" r="12.0" fill="url(#sP)"/>
<circle cx="590.0" cy="219.4" r="12.0" fill="url(#sB)"/>
<circle cx="607.5" cy="219.4" r="12.0" fill="url(#sP)"/>
<circle cx="625.0" cy="219.4" r="12.0" fill="url(#sB)"/>
<circle cx="642.5" cy="219.4" r="12.0" fill="url(#sP)"/>
<circle cx="660.0" cy="219.4" r="12.0" fill="url(#sB)"/>
<circle cx="677.5" cy="219.4" r="12.0" fill="url(#sP)"/>
<circle cx="695.0" cy="219.4" r="12.0" fill="url(#sB)"/>
<circle cx="161.2" cy="227.0" r="13.0" fill="url(#sB)"/>
<circle cx="178.8" cy="227.0" r="13.0" fill="url(#sP)"/>
<circle cx="196.2" cy="227.0" r="13.0" fill="url(#sB)"/>
<circle cx="213.8" cy="227.0" r="13.0" fill="url(#sP)"/>
<circle cx="231.2" cy="227.0" r="13.0" fill="url(#sB)"/>
<circle cx="248.8" cy="227.0" r="13.0" fill="url(#sP)"/>
<circle cx="266.2" cy="227.0" r="13.0" fill="url(#sB)"/>
<circle cx="283.8" cy="227.0" r="13.0" fill="url(#sP)"/>
<circle cx="301.2" cy="227.0" r="13.0" fill="url(#sB)"/>
<circle cx="318.8" cy="227.0" r="13.0" fill="url(#sP)"/>
<circle cx="336.2" cy="227.0" r="13.0" fill="url(#sB)"/>
<circle cx="353.8" cy="227.0" r="13.0" fill="url(#sP)"/>
<circle cx="371.2" cy="227.0" r="13.0" fill="url(#sB)"/>
<circle cx="388.8" cy="227.0" r="13.0" fill="url(#sP)"/>
<circle cx="406.2" cy="227.0" r="13.0" fill="url(#sB)"/>
<circle cx="423.8" cy="227.0" r="13.0" fill="url(#sP)"/>
<circle cx="441.2" cy="227.0" r="13.0" fill="url(#sB)"/>
<circle cx="458.8" cy="227.0" r="13.0" fill="url(#sP)"/>
<circle cx="476.2" cy="227.0" r="13.0" fill="url(#sB)"/>
<circle cx="493.8" cy="227.0" r="13.0" fill="url(#sP)"/>
<circle cx="511.2" cy="227.0" r="13.0" fill="url(#sB)"/>
<circle cx="528.8" cy="227.0" r="13.0" fill="url(#sP)"/>
<circle cx="546.2" cy="227.0" r="13.0" fill="url(#sB)"/>
<circle cx="563.8" cy="227.0" r="13.0" fill="url(#sP)"/>
<circle cx="581.2" cy="227.0" r="13.0" fill="url(#sB)"/>
<circle cx="598.8" cy="227.0" r="13.0" fill="url(#sP)"/>
<circle cx="616.2" cy="227.0" r="13.0" fill="url(#sB)"/>
<circle cx="633.8" cy="227.0" r="13.0" fill="url(#sP)"/>
<circle cx="651.2" cy="227.0" r="13.0" fill="url(#sB)"/>
<circle cx="668.8" cy="227.0" r="13.0" fill="url(#sP)"/>
<circle cx="686.2" cy="227.0" r="13.0" fill="url(#sB)"/>
<circle cx="205.0" cy="258.0" r="9.0" fill="url(#sB)"/>
<circle cx="222.5" cy="258.0" r="9.0" fill="url(#sP)"/>
<circle cx="240.0" cy="258.0" r="9.0" fill="url(#sB)"/>
<circle cx="257.5" cy="258.0" r="9.0" fill="url(#sP)"/>
<circle cx="275.0" cy="258.0" r="9.0" fill="url(#sB)"/>
<circle cx="292.5" cy="258.0" r="9.0" fill="url(#sP)"/>
<circle cx="310.0" cy="258.0" r="9.0" fill="url(#sB)"/>
<circle cx="327.5" cy="258.0" r="9.0" fill="url(#sP)"/>
<circle cx="345.0" cy="258.0" r="9.0" fill="url(#sB)"/>
<circle cx="362.5" cy="258.0" r="9.0" fill="url(#sP)"/>
<circle cx="380.0" cy="258.0" r="9.0" fill="url(#sB)"/>
<circle cx="397.5" cy="258.0" r="9.0" fill="url(#sP)"/>
<circle cx="415.0" cy="258.0" r="9.0" fill="url(#sB)"/>
<circle cx="432.5" cy="258.0" r="9.0" fill="url(#sP)"/>
<circle cx="450.0" cy="258.0" r="9.0" fill="url(#sB)"/>
<circle cx="467.5" cy="258.0" r="9.0" fill="url(#sP)"/>
<circle cx="485.0" cy="258.0" r="9.0" fill="url(#sB)"/>
<circle cx="502.5" cy="258.0" r="9.0" fill="url(#sP)"/>
<circle cx="520.0" cy="258.0" r="9.0" fill="url(#sB)"/>
<circle cx="537.5" cy="258.0" r="9.0" fill="url(#sP)"/>
<circle cx="555.0" cy="258.0" r="9.0" fill="url(#sB)"/>
<circle cx="572.5" cy="258.0" r="9.0" fill="url(#sP)"/>
<circle cx="590.0" cy="258.0" r="9.0" fill="url(#sB)"/>
<circle cx="607.5" cy="258.0" r="9.0" fill="url(#sP)"/>
<circle cx="625.0" cy="258.0" r="9.0" fill="url(#sB)"/>
<circle cx="642.5" cy="258.0" r="9.0" fill="url(#sP)"/>
<circle cx="660.0" cy="258.0" r="9.0" fill="url(#sB)"/>
<circle cx="677.5" cy="258.0" r="9.0" fill="url(#sP)"/>
<circle cx="695.0" cy="258.0" r="9.0" fill="url(#sB)"/>
<circle cx="196.2" cy="265.5" r="10.0" fill="url(#sB)"/>
<circle cx="213.8" cy="265.5" r="10.0" fill="url(#sP)"/>
<circle cx="231.2" cy="265.5" r="10.0" fill="url(#sB)"/>
<circle cx="248.8" cy="265.5" r="10.0" fill="url(#sP)"/>
<circle cx="266.2" cy="265.5" r="10.0" fill="url(#sB)"/>
<circle cx="283.8" cy="265.5" r="10.0" fill="url(#sP)"/>
<circle cx="301.2" cy="265.5" r="10.0" fill="url(#sB)"/>
<circle cx="318.8" cy="265.5" r="10.0" fill="url(#sP)"/>
<circle cx="336.2" cy="265.5" r="10.0" fill="url(#sB)"/>
<circle cx="353.8" cy="265.5" r="10.0" fill="url(#sP)"/>
<circle cx="371.2" cy="265.5" r="10.0" fill="url(#sB)"/>
<circle cx="388.8" cy="265.5" r="10.0" fill="url(#sP)"/>
<circle cx="406.2" cy="265.5" r="10.0" fill="url(#sB)"/>
<circle cx="423.8" cy="265.5" r="10.0" fill="url(#sP)"/>
<circle cx="441.2" cy="265.5" r="10.0" fill="url(#sB)"/>
<circle cx="458.8" cy="265.5" r="10.0" fill="url(#sP)"/>
<circle cx="476.2" cy="265.5" r="10.0" fill="url(#sB)"/>
<circle cx="493.8" cy="265.5" r="10.0" fill="url(#sP)"/>
<circle cx="511.2" cy="265.5" r="10.0" fill="url(#sB)"/>
<circle cx="528.8" cy="265.5" r="10.0" fill="url(#sP)"/>
<circle cx="546.2" cy="265.5" r="10.0" fill="url(#sB)"/>
<circle cx="563.8" cy="265.5" r="10.0" fill="url(#sP)"/>
<circle cx="581.2" cy="265.5" r="10.0" fill="url(#sB)"/>
<circle cx="598.8" cy="265.5" r="10.0" fill="url(#sP)"/>
<circle cx="616.2" cy="265.5" r="10.0" fill="url(#sB)"/>
<circle cx="633.8" cy="265.5" r="10.0" fill="url(#sP)"/>
<circle cx="651.2" cy="265.5" r="10.0" fill="url(#sB)"/>
<circle cx="668.8" cy="265.5" r="10.0" fill="url(#sP)"/>
<circle cx="686.2" cy="265.5" r="10.0" fill="url(#sB)"/>
<circle cx="187.5" cy="273.0" r="11.0" fill="url(#sB)"/>
<circle cx="205.0" cy="273.0" r="11.0" fill="url(#sP)"/>
<circle cx="222.5" cy="273.0" r="11.0" fill="url(#sB)"/>
<circle cx="240.0" cy="273.0" r="11.0" fill="url(#sP)"/>
<circle cx="257.5" cy="273.0" r="11.0" fill="url(#sB)"/>
<circle cx="275.0" cy="273.0" r="11.0" fill="url(#sP)"/>
<circle cx="292.5" cy="273.0" r="11.0" fill="url(#sB)"/>
<circle cx="310.0" cy="273.0" r="11.0" fill="url(#sP)"/>
<circle cx="327.5" cy="273.0" r="11.0" fill="url(#sB)"/>
<circle cx="345.0" cy="273.0" r="11.0" fill="url(#sP)"/>
<circle cx="362.5" cy="273.0" r="11.0" fill="url(#sB)"/>
<circle cx="380.0" cy="273.0" r="11.0" fill="url(#sP)"/>
<circle cx="397.5" cy="273.0" r="11.0" fill="url(#sB)"/>
<circle cx="415.0" cy="273.0" r="11.0" fill="url(#sP)"/>
<circle cx="432.5" cy="273.0" r="11.0" fill="url(#sB)"/>
<circle cx="450.0" cy="273.0" r="11.0" fill="url(#sP)"/>
<circle cx="467.5" cy="273.0" r="11.0" fill="url(#sB)"/>
<circle cx="485.0" cy="273.0" r="11.0" fill="url(#sP)"/>
<circle cx="502.5" cy="273.0" r="11.0" fill="url(#sB)"/>
<circle cx="520.0" cy="273.0" r="11.0" fill="url(#sP)"/>
<circle cx="537.5" cy="273.0" r="11.0" fill="url(#sB)"/>
<circle cx="555.0" cy="273.0" r="11.0" fill="url(#sP)"/>
<circle cx="572.5" cy="273.0" r="11.0" fill="url(#sB)"/>
<circle cx="590.0" cy="273.0" r="11.0" fill="url(#sP)"/>
<circle cx="607.5" cy="273.0" r="11.0" fill="url(#sB)"/>
<circle cx="625.0" cy="273.0" r="11.0" fill="url(#sP)"/>
<circle cx="642.5" cy="273.0" r="11.0" fill="url(#sB)"/>
<circle cx="660.0" cy="273.0" r="11.0" fill="url(#sP)"/>
<circle cx="677.5" cy="273.0" r="11.0" fill="url(#sB)"/>
<circle cx="695.0" cy="273.0" r="11.0" fill="url(#sP)"/>
<circle cx="178.8" cy="280.5" r="12.0" fill="url(#sB)"/>
<circle cx="196.2" cy="280.5" r="12.0" fill="url(#sP)"/>
<circle cx="213.8" cy="280.5" r="12.0" fill="url(#sB)"/>
<circle cx="231.2" cy="280.5" r="12.0" fill="url(#sP)"/>
<circle cx="248.8" cy="280.5" r="12.0" fill="url(#sB)"/>
<circle cx="266.2" cy="280.5" r="12.0" fill="url(#sP)"/>
<circle cx="283.8" cy="280.5" r="12.0" fill="url(#sB)"/>
<circle cx="301.2" cy="280.5" r="12.0" fill="url(#sP)"/>
<circle cx="318.8" cy="280.5" r="12.0" fill="url(#sB)"/>
<circle cx="336.2" cy="280.5" r="12.0" fill="url(#sP)"/>
<circle cx="353.8" cy="280.5" r="12.0" fill="url(#sB)"/>
<circle cx="371.2" cy="280.5" r="12.0" fill="url(#sP)"/>
<circle cx="388.8" cy="280.5" r="12.0" fill="url(#sB)"/>
<circle cx="406.2" cy="280.5" r="12.0" fill="url(#sP)"/>
<circle cx="423.8" cy="280.5" r="12.0" fill="url(#sB)"/>
<circle cx="441.2" cy="280.5" r="12.0" fill="url(#sP)"/>
<circle cx="458.8" cy="280.5" r="12.0" fill="url(#sB)"/>
<circle cx="476.2" cy="280.5" r="12.0" fill="url(#sP)"/>
<circle cx="493.8" cy="280.5" r="12.0" fill="url(#sB)"/>
<circle cx="511.2" cy="280.5" r="12.0" fill="url(#sP)"/>
<circle cx="528.8" cy="280.5" r="12.0" fill="url(#sB)"/>
<circle cx="546.2" cy="280.5" r="12.0" fill="url(#sP)"/>
<circle cx="563.8" cy="280.5" r="12.0" fill="url(#sB)"/>
<circle cx="581.2" cy="280.5" r="12.0" fill="url(#sP)"/>
<circle cx="598.8" cy="280.5" r="12.0" fill="url(#sB)"/>
<circle cx="616.2" cy="280.5" r="12.0" fill="url(#sP)"/>
<circle cx="633.8" cy="280.5" r="12.0" fill="url(#sB)"/>
<circle cx="651.2" cy="280.5" r="12.0" fill="url(#sP)"/>
<circle cx="668.8" cy="280.5" r="12.0" fill="url(#sB)"/>
<circle cx="686.2" cy="280.5" r="12.0" fill="url(#sP)"/>
<circle cx="205.0" cy="303.0" r="9.5" fill="url(#sB)"/>
<circle cx="222.5" cy="303.0" r="9.5" fill="url(#sP)"/>
<circle cx="240.0" cy="303.0" r="9.5" fill="url(#sB)"/>
<circle cx="257.5" cy="303.0" r="9.5" fill="url(#sP)"/>
<circle cx="275.0" cy="303.0" r="9.5" fill="url(#sB)"/>
<circle cx="292.5" cy="303.0" r="9.5" fill="url(#sP)"/>
<circle cx="310.0" cy="303.0" r="9.5" fill="url(#sB)"/>
<circle cx="327.5" cy="303.0" r="9.5" fill="url(#sP)"/>
<circle cx="345.0" cy="303.0" r="9.5" fill="url(#sB)"/>
<circle cx="362.5" cy="303.0" r="9.5" fill="url(#sP)"/>
<circle cx="380.0" cy="303.0" r="9.5" fill="url(#sB)"/>
<circle cx="397.5" cy="303.0" r="9.5" fill="url(#sP)"/>
<circle cx="415.0" cy="303.0" r="9.5" fill="url(#sB)"/>
<circle cx="432.5" cy="303.0" r="9.5" fill="url(#sP)"/>
<circle cx="450.0" cy="303.0" r="9.5" fill="url(#sB)"/>
<circle cx="467.5" cy="303.0" r="9.5" fill="url(#sP)"/>
<circle cx="485.0" cy="303.0" r="9.5" fill="url(#sB)"/>
<circle cx="502.5" cy="303.0" r="9.5" fill="url(#sP)"/>
<circle cx="520.0" cy="303.0" r="9.5" fill="url(#sB)"/>
<circle cx="537.5" cy="303.0" r="9.5" fill="url(#sP)"/>
<circle cx="555.0" cy="303.0" r="9.5" fill="url(#sB)"/>
<circle cx="572.5" cy="303.0" r="9.5" fill="url(#sP)"/>
<circle cx="590.0" cy="303.0" r="9.5" fill="url(#sB)"/>
<circle cx="607.5" cy="303.0" r="9.5" fill="url(#sP)"/>
<circle cx="625.0" cy="303.0" r="9.5" fill="url(#sB)"/>
<circle cx="642.5" cy="303.0" r="9.5" fill="url(#sP)"/>
<circle cx="660.0" cy="303.0" r="9.5" fill="url(#sB)"/>
<circle cx="677.5" cy="303.0" r="9.5" fill="url(#sP)"/>
<circle cx="695.0" cy="303.0" r="9.5" fill="url(#sB)"/>
<circle cx="196.2" cy="310.0" r="10.5" fill="url(#sB)"/>
<circle cx="213.8" cy="310.0" r="10.5" fill="url(#sP)"/>
<circle cx="231.2" cy="310.0" r="10.5" fill="url(#sB)"/>
<circle cx="248.8" cy="310.0" r="10.5" fill="url(#sP)"/>
<circle cx="266.2" cy="310.0" r="10.5" fill="url(#sB)"/>
<circle cx="283.8" cy="310.0" r="10.5" fill="url(#sP)"/>
<circle cx="301.2" cy="310.0" r="10.5" fill="url(#sB)"/>
<circle cx="318.8" cy="310.0" r="10.5" fill="url(#sP)"/>
<circle cx="336.2" cy="310.0" r="10.5" fill="url(#sB)"/>
<circle cx="353.8" cy="310.0" r="10.5" fill="url(#sP)"/>
<circle cx="371.2" cy="310.0" r="10.5" fill="url(#sB)"/>
<circle cx="388.8" cy="310.0" r="10.5" fill="url(#sP)"/>
<circle cx="406.2" cy="310.0" r="10.5" fill="url(#sB)"/>
<circle cx="423.8" cy="310.0" r="10.5" fill="url(#sP)"/>
<circle cx="441.2" cy="310.0" r="10.5" fill="url(#sB)"/>
<circle cx="458.8" cy="310.0" r="10.5" fill="url(#sP)"/>
<circle cx="476.2" cy="310.0" r="10.5" fill="url(#sB)"/>
<circle cx="493.8" cy="310.0" r="10.5" fill="url(#sP)"/>
<circle cx="511.2" cy="310.0" r="10.5" fill="url(#sB)"/>
<circle cx="528.8" cy="310.0" r="10.5" fill="url(#sP)"/>
<circle cx="546.2" cy="310.0" r="10.5" fill="url(#sB)"/>
<circle cx="563.8" cy="310.0" r="10.5" fill="url(#sP)"/>
<circle cx="581.2" cy="310.0" r="10.5" fill="url(#sB)"/>
<circle cx="598.8" cy="310.0" r="10.5" fill="url(#sP)"/>
<circle cx="616.2" cy="310.0" r="10.5" fill="url(#sB)"/>
<circle cx="633.8" cy="310.0" r="10.5" fill="url(#sP)"/>
<circle cx="651.2" cy="310.0" r="10.5" fill="url(#sB)"/>
<circle cx="668.8" cy="310.0" r="10.5" fill="url(#sP)"/>
<circle cx="686.2" cy="310.0" r="10.5" fill="url(#sB)"/>
<circle cx="187.5" cy="317.0" r="11.5" fill="url(#sB)"/>
<circle cx="205.0" cy="317.0" r="11.5" fill="url(#sP)"/>
<circle cx="222.5" cy="317.0" r="11.5" fill="url(#sB)"/>
<circle cx="240.0" cy="317.0" r="11.5" fill="url(#sP)"/>
<circle cx="257.5" cy="317.0" r="11.5" fill="url(#sB)"/>
<circle cx="275.0" cy="317.0" r="11.5" fill="url(#sP)"/>
<circle cx="292.5" cy="317.0" r="11.5" fill="url(#sB)"/>
<circle cx="310.0" cy="317.0" r="11.5" fill="url(#sP)"/>
<circle cx="327.5" cy="317.0" r="11.5" fill="url(#sB)"/>
<circle cx="345.0" cy="317.0" r="11.5" fill="url(#sP)"/>
<circle cx="362.5" cy="317.0" r="11.5" fill="url(#sB)"/>
<circle cx="380.0" cy="317.0" r="11.5" fill="url(#sP)"/>
<circle cx="397.5" cy="317.0" r="11.5" fill="url(#sB)"/>
<circle cx="415.0" cy="317.0" r="11.5" fill="url(#sP)"/>
<circle cx="432.5" cy="317.0" r="11.5" fill="url(#sB)"/>
<circle cx="450.0" cy="317.0" r="11.5" fill="url(#sP)"/>
<circle cx="467.5" cy="317.0" r="11.5" fill="url(#sB)"/>
<circle cx="485.0" cy="317.0" r="11.5" fill="url(#sP)"/>
<circle cx="502.5" cy="317.0" r="11.5" fill="url(#sB)"/>
<circle cx="520.0" cy="317.0" r="11.5" fill="url(#sP)"/>
<circle cx="537.5" cy="317.0" r="11.5" fill="url(#sB)"/>
<circle cx="555.0" cy="317.0" r="11.5" fill="url(#sP)"/>
<circle cx="572.5" cy="317.0" r="11.5" fill="url(#sB)"/>
<circle cx="590.0" cy="317.0" r="11.5" fill="url(#sP)"/>
<circle cx="607.5" cy="317.0" r="11.5" fill="url(#sB)"/>
<circle cx="625.0" cy="317.0" r="11.5" fill="url(#sP)"/>
<circle cx="642.5" cy="317.0" r="11.5" fill="url(#sB)"/>
<circle cx="660.0" cy="317.0" r="11.5" fill="url(#sP)"/>
<circle cx="677.5" cy="317.0" r="11.5" fill="url(#sB)"/>
<circle cx="695.0" cy="317.0" r="11.5" fill="url(#sP)"/>
<rect x="220" y="340" width="454.5" height="36" fill="#8a8a8a"/>
<rect x="220" y="340" width="454.5" height="36" fill="#000" filter="url(#nz)" opacity="0.3"/>
<circle cx="241.5" cy="247" r="17" fill="url(#sB)"/>
<circle cx="275.0" cy="247" r="17" fill="url(#sP)"/>
<circle cx="308.5" cy="247" r="17" fill="url(#sB)"/>
<circle cx="342.0" cy="247" r="17" fill="url(#sP)"/>
<circle cx="375.5" cy="247" r="17" fill="url(#sB)"/>
<circle cx="409.0" cy="247" r="17" fill="url(#sP)"/>
<circle cx="442.5" cy="247" r="17" fill="url(#sB)"/>
<circle cx="476.0" cy="247" r="17" fill="url(#sP)"/>
<circle cx="509.5" cy="247" r="17" fill="url(#sB)"/>
<circle cx="543.0" cy="247" r="17" fill="url(#sP)"/>
<circle cx="576.5" cy="247" r="17" fill="url(#sB)"/>
<circle cx="610.0" cy="247" r="17" fill="url(#sP)"/>
<circle cx="643.5" cy="247" r="17" fill="url(#sB)"/>
<circle cx="677.0" cy="247" r="17" fill="url(#sP)"/>
<circle cx="225.0" cy="292" r="16.5" fill="url(#sB)"/>
<circle cx="258.5" cy="292" r="16.5" fill="url(#sP)"/>
<circle cx="292.0" cy="292" r="16.5" fill="url(#sB)"/>
<circle cx="325.5" cy="292" r="16.5" fill="url(#sP)"/>
<circle cx="359.0" cy="292" r="16.5" fill="url(#sB)"/>
<circle cx="392.5" cy="292" r="16.5" fill="url(#sP)"/>
<circle cx="426.0" cy="292" r="16.5" fill="url(#sB)"/>
<circle cx="459.5" cy="292" r="16.5" fill="url(#sP)"/>
<circle cx="493.0" cy="292" r="16.5" fill="url(#sB)"/>
<circle cx="526.5" cy="292" r="16.5" fill="url(#sP)"/>
<circle cx="560.0" cy="292" r="16.5" fill="url(#sB)"/>
<circle cx="593.5" cy="292" r="16.5" fill="url(#sP)"/>
<circle cx="627.0" cy="292" r="16.5" fill="url(#sB)"/>
<circle cx="660.5" cy="292" r="16.5" fill="url(#sP)"/>
<circle cx="694.0" cy="292" r="16.5" fill="url(#sB)"/>
<circle cx="238.0" cy="337" r="17" fill="url(#sB)"/>
<circle cx="271.5" cy="337" r="17" fill="url(#sP)"/>
<circle cx="305.0" cy="337" r="17" fill="url(#sB)"/>
<circle cx="338.5" cy="337" r="17" fill="url(#sP)"/>
<circle cx="372.0" cy="337" r="17" fill="url(#sB)"/>
<circle cx="405.5" cy="337" r="17" fill="url(#sP)"/>
<circle cx="439.0" cy="337" r="17" fill="url(#sB)"/>
<circle cx="472.5" cy="337" r="17" fill="url(#sP)"/>
<circle cx="506.0" cy="337" r="17" fill="url(#sB)"/>
<circle cx="539.5" cy="337" r="17" fill="url(#sP)"/>
<circle cx="573.0" cy="337" r="17" fill="url(#sB)"/>
<circle cx="606.5" cy="337" r="17" fill="url(#sP)"/>
<circle cx="640.0" cy="337" r="17" fill="url(#sB)"/>
<circle cx="673.5" cy="337" r="17" fill="url(#sP)"/>
<path d="M550.5,106 L598,108.6 L587.7,121.3 C597,135 612,160 617,190 C621,215 617,240 605,262 L587.7,279 C592,262 594,235 592.5,215 C591,195 583,178 576,166 L563,149.3 L550.5,157.7 Z" fill="#3a44ea" stroke="#b8c8d0" stroke-width="1.5" stroke-opacity="0.7"/>
<text font-family="Liberation Sans, Arial, sans-serif" fill="none" stroke="#181828" stroke-width="4.6" stroke-linejoin="round" font-size="50" x="326" y="246.5" textLength="246" lengthAdjust="spacing">Interfacial</text>
<text font-family="Liberation Sans, Arial, sans-serif" fill="none" stroke="#181828" stroke-width="4.6" stroke-linejoin="round" font-size="45.5" x="241.5" y="315.5" textLength="414" lengthAdjust="spacing">Electron Transfer</text>
<text font-family="Liberation Sans, Arial, sans-serif" fill="#fbfbf0" stroke="#fbfbf0" stroke-width="1.5" stroke-linejoin="round" font-size="50" x="326" y="246.5" textLength="246" lengthAdjust="spacing">Interfacial</text>
<text font-family="Liberation Sans, Arial, sans-serif" fill="#fbfbf0" stroke="#fbfbf0" stroke-width="1.5" stroke-linejoin="round" font-size="45.5" x="241.5" y="315.5" textLength="414" lengthAdjust="spacing">Electron Transfer</text>
</g>
<g clip-path="url(#cpT)">
<rect x="220" y="416" width="452" height="80" fill="#8c8c8c"/>
<rect x="220" y="416" width="452" height="80" fill="#000" filter="url(#nz)" opacity="0.55"/>
<g fill="#0a0a0a" filter="url(#blh)">
<ellipse cx="254" cy="448" rx="13.2" ry="5" opacity="0.9"/>
<ellipse cx="309" cy="427" rx="5.5" ry="4" opacity="0.9"/>
<ellipse cx="320" cy="454" rx="13.2" ry="4" opacity="0.9"/>
<ellipse cx="357" cy="427" rx="8.8" ry="3" opacity="0.9"/>
<ellipse cx="340" cy="444" rx="8.8" ry="3" opacity="0.9"/>
<ellipse cx="440" cy="434" rx="8.8" ry="4" opacity="0.9"/>
<ellipse cx="506" cy="494" rx="5.5" ry="2" opacity="0.9"/>
<ellipse cx="572" cy="439" rx="11.0" ry="3" opacity="0.9"/>
<ellipse cx="569" cy="474" rx="8.8" ry="4" opacity="0.9"/>
<ellipse cx="595" cy="444" rx="6.6" ry="3" opacity="0.9"/>
<ellipse cx="649" cy="487" rx="7.7" ry="3" opacity="0.9"/>
<ellipse cx="626" cy="459" rx="6.6" ry="3" opacity="0.9"/>
<ellipse cx="244" cy="464" rx="5.5" ry="3" opacity="0.9"/>
<ellipse cx="269" cy="492" rx="6.6" ry="2" opacity="0.9"/>
<ellipse cx="389" cy="487" rx="6.6" ry="2" opacity="0.9"/>
<ellipse cx="532" cy="453" rx="5.5" ry="3" opacity="0.9"/>
<ellipse cx="560" cy="453" rx="5.5" ry="3" opacity="0.9"/>
<ellipse cx="470" cy="466" rx="5.5" ry="3" opacity="0.9"/>
<ellipse cx="420" cy="470" rx="6.6" ry="3" opacity="0.9"/>
<ellipse cx="300" cy="480" rx="6.6" ry="2" opacity="0.9"/>
</g>
<rect x="220" y="416" width="452" height="80" fill="url(#temg)"/>
<ellipse cx="505" cy="418" rx="16" ry="2.5" fill="#e8e8e8" filter="url(#bl1)"/>
<ellipse cx="520" cy="424" rx="14" ry="2" fill="#555" filter="url(#bl1)"/>
</g>
<g stroke="#111" stroke-width="2.8" stroke-dasharray="3,3.2" fill="none">
<line x1="220" y1="377" x2="472.5" y2="435"/>
<line x1="674.5" y1="377.5" x2="530" y2="435"/>
<rect x="472.5" y="393.3" width="57.5" height="41.7"/>
</g>
<text font-family="Liberation Sans, Arial, sans-serif" font-weight="bold" fill="#fcfcfc" stroke="#333" stroke-width="1.5" paint-order="stroke" font-size="55.5" x="367" y="481" textLength="179" lengthAdjust="spacingAndGlyphs">M-CNF</text>
<g stroke="#111" stroke-width="2.4" fill="none">
<rect x="951.2" y="41.8" width="573.6" height="426"/>
<line x1="943" y1="41.8" x2="951" y2="41.8"/>
<line x1="943" y1="183.9" x2="951" y2="183.9"/>
<line x1="943" y1="325.9" x2="951" y2="325.9"/>
<line x1="943" y1="467.8" x2="951" y2="467.8"/>
<line x1="1023.5" y1="468" x2="1023.5" y2="475"/>
<line x1="1166.2" y1="468" x2="1166.2" y2="475"/>
<line x1="1309.3" y1="468" x2="1309.3" y2="475"/>
<line x1="1452.5" y1="468" x2="1452.5" y2="475"/>
</g>
<g font-family="Liberation Sans, Arial, sans-serif" font-size="25.5" fill="#111">
<text x="935.5" y="50.8" text-anchor="end">0.95</text>
<text x="935.5" y="192.9" text-anchor="end">0.90</text>
<text x="935.5" y="334.9" text-anchor="end">0.85</text>
<text x="935.5" y="476.8" text-anchor="end">0.80</text>
<text x="1023.5" y="501" text-anchor="middle">4.4</text>
<text x="1166.2" y="501" text-anchor="middle">4.6</text>
<text x="1309.3" y="501" text-anchor="middle">4.8</text>
<text x="1452.5" y="501" text-anchor="middle">5.0</text>
</g>
<text font-family="Liberation Sans, Arial, sans-serif" font-size="29.5" fill="#111" transform="translate(868.5,307) rotate(-90)"><tspan font-style="italic">E</tspan> / V<tspan font-size="21" dy="7">RHE</tspan></text>
<text font-family="Liberation Sans, Arial, sans-serif" font-size="30" fill="#111" x="1174" y="547.3"><tspan font-style="italic">W</tspan><tspan font-size="20.5" dy="7">DFT</tspan><tspan dy="-7"> / eV</tspan></text>
<polyline points="952,454.5 1169,137.5 1523.5,467" fill="none" stroke="#484848" stroke-width="5" stroke-linejoin="round"/>
<g fill="#000">
<rect x="1109.5" y="113.5" width="17" height="17"/>
<rect x="1254.5" y="189.0" width="17" height="17"/>
<rect x="1270.5" y="204.0" width="17" height="17"/>
<rect x="1290.0" y="249.5" width="17" height="17"/>
<rect x="1367.0" y="263.0" width="17" height="17"/>
<rect x="1401.0" y="433.5" width="17" height="17"/>
<rect x="984.5" y="379.5" width="17" height="17"/>
<rect x="1098.5" y="317.0" width="17" height="17"/>
</g>
<g font-family="Liberation Sans, Arial, sans-serif" font-size="24" fill="#111">
<text x="1017" y="108.7">Fe-CNF</text>
<text x="1028" y="135" font-size="22">(Fe<tspan font-size="15" dy="4">3</tspan><tspan dy="-4">C)</tspan></text>
<text x="1270" y="176">Fe<tspan font-size="17" dy="5">0.7</tspan><tspan dy="-5">Co</tspan><tspan font-size="17" dy="5">0.3</tspan><tspan dy="-5">-CNF</tspan></text>
<text x="1295.5" y="209.5">Fe<tspan font-size="17" dy="5">0.5</tspan><tspan dy="-5">Co</tspan><tspan font-size="17" dy="5">0.5</tspan><tspan dy="-5">-CNF</tspan></text>
<text x="1310.5" y="248.7">Fe<tspan font-size="17" dy="5">0.3</tspan><tspan dy="-5">Co</tspan><tspan font-size="17" dy="5">0.7</tspan><tspan dy="-5">-CNF</tspan></text>
<text x="1385" y="301.2">Co-CNF</text>
<text x="1314" y="447.5">Ni-CNF</text>
<text x="1052" y="362.5">Ag<tspan font-size="17" dy="5">0.5</tspan><tspan dy="-5">Fe</tspan><tspan font-size="17" dy="5">0.5</tspan><tspan dy="-5">-CNF</tspan></text>
<text x="1000.5" y="418.2">Ag-CNF</text>
</g>
<text font-family="Liberation Sans, Arial, sans-serif" font-weight="bold" font-size="20.5" fill="#111" x="1351.5" y="68.7" textLength="146" lengthAdjust="spacingAndGlyphs">@ 0.3 mA cm</text><text font-family="Liberation Sans, Arial, sans-serif" font-weight="bold" font-size="14" fill="#111" x="1499" y="60" textLength="12" lengthAdjust="spacingAndGlyphs">-2</text>
<g stroke="#111" stroke-width="2.2" fill="none">
<rect x="135.5" y="629.5" width="709" height="429.3"/>
<line x1="127" y1="1005.1" x2="135.5" y2="1005.1"/>
<line x1="127" y1="897.9" x2="135.5" y2="897.9"/>
<line x1="127" y1="790.8" x2="135.5" y2="790.8"/>
<line x1="127" y1="683.5" x2="135.5" y2="683.5"/>
<line x1="130" y1="951.5" x2="135.5" y2="951.5"/>
<line x1="130" y1="844.4" x2="135.5" y2="844.4"/>
<line x1="130" y1="737.1" x2="135.5" y2="737.1"/>
<line x1="187" y1="1058.8" x2="187" y2="1067.5"/>
<line x1="288.1" y1="1058.8" x2="288.1" y2="1067.5"/>
<line x1="389.2" y1="1058.8" x2="389.2" y2="1067.5"/>
<line x1="490.3" y1="1058.8" x2="490.3" y2="1067.5"/>
<line x1="591.4" y1="1058.8" x2="591.4" y2="1067.5"/>
<line x1="692.5" y1="1058.8" x2="692.5" y2="1067.5"/>
<line x1="793.6" y1="1058.8" x2="793.6" y2="1067.5"/>
<line x1="136.5" y1="1058.8" x2="136.5" y2="1064.5"/>
<line x1="237.55" y1="1058.8" x2="237.55" y2="1064.5"/>
<line x1="338.65" y1="1058.8" x2="338.65" y2="1064.5"/>
<line x1="439.75" y1="1058.8" x2="439.75" y2="1064.5"/>
<line x1="540.85" y1="1058.8" x2="540.85" y2="1064.5"/>
<line x1="641.95" y1="1058.8" x2="641.95" y2="1064.5"/>
<line x1="743.05" y1="1058.8" x2="743.05" y2="1064.5"/>
<line x1="844.5" y1="1058.8" x2="844.5" y2="1064.5"/>
</g>
<g font-family="Liberation Sans, Arial, sans-serif" font-size="29.5" fill="#111">
<text x="120" y="1015.1" text-anchor="end">0.4</text>
<text x="120" y="908.0" text-anchor="end">0.6</text>
<text x="120" y="800.8" text-anchor="end">0.8</text>
<text x="120" y="693.5" text-anchor="end">1.0</text>
<text x="186" y="1098.3" text-anchor="middle">0</text>
<text x="287.1" y="1098.3" text-anchor="middle">0.1</text>
<text x="388.2" y="1098.3" text-anchor="middle">0.3</text>
<text x="489.3" y="1098.3" text-anchor="middle">0.5</text>
<text x="590.4" y="1098.3" text-anchor="middle">0.7</text>
<text x="691.5" y="1098.3" text-anchor="middle">0.9</text>
<text x="792.6" y="1098.3" text-anchor="middle">1</text>
</g>
<g font-family="Liberation Sans, Arial, sans-serif" font-size="26.5" fill="#111">
<text x="184.5" y="668.5" text-anchor="middle">-1.49</text>
<text x="285.6" y="668.5" text-anchor="middle">-1.30</text>
<text x="386.7" y="668.5" text-anchor="middle">-0.95</text>
<text x="487.8" y="668.5" text-anchor="middle">-0.63</text>
<text x="588.9" y="668.5" text-anchor="middle">-0.66</text>
<text x="690.0" y="668.5" text-anchor="middle">-0.71</text>
<text x="791.1" y="668.5" text-anchor="middle">-0.68</text>
</g>
<text font-family="Liberation Sans, Arial, sans-serif" font-size="34.5" fill="#111" x="390.5" y="1146.3">x in Fe<tspan font-size="26" dy="9">1-x</tspan><tspan dy="-9">Co</tspan><tspan font-size="26" dy="9">x</tspan></text>
<text font-family="Liberation Sans, Arial, sans-serif" font-size="35.3" fill="#111" transform="translate(58.5,995) rotate(-90)">Normalized j</text>
<text font-family="Liberation Sans, Arial, sans-serif" font-size="24.5" fill="#111" transform="translate(69,783.5) rotate(-90)">@0.85V</text>
<g stroke="#8a8a8a" stroke-width="1.6" stroke-dasharray="2.2,3">
<line x1="187" y1="694" x2="187" y2="948"/>
<line x1="288.1" y1="694" x2="288.1" y2="823"/>
<line x1="389.2" y1="694" x2="389.2" y2="878"/>
<line x1="490.3" y1="694" x2="490.3" y2="910"/>
<line x1="591.4" y1="694" x2="591.4" y2="860"/>
<line x1="692.5" y1="694" x2="692.5" y2="845"/>
<line x1="793.6" y1="694" x2="793.6" y2="830"/>
</g>
<line x1="187" y1="683.5" x2="793.6" y2="683.5" stroke="#26348c" stroke-width="2.2"/>
<g fill="#0d1a78">
<circle cx="187" cy="683.5" r="9.6"/>
<circle cx="288.1" cy="683.5" r="9.6"/>
<circle cx="389.2" cy="683.5" r="9.6"/>
<circle cx="490.3" cy="683.5" r="9.6"/>
<circle cx="591.4" cy="683.5" r="9.6"/>
<circle cx="692.5" cy="683.5" r="9.6"/>
<circle cx="793.6" cy="683.5" r="9.6"/>
</g>
<polyline points="187,1034.5 288.1,858 389.2,940.8 490.3,957 591.4,905.6 692.5,887 793.6,873" fill="none" stroke="#111" stroke-width="2"/>
<g fill="#fff" stroke="#111" stroke-width="2.4" stroke-linejoin="miter">
<polygon points="176.5,1027.5 197.5,1027.5 187,1045.5"/>
<polygon points="277.6,851 298.6,851 288.1,869"/>
<polygon points="378.7,933.8 399.7,933.8 389.2,951.8"/>
<polygon points="479.8,950 500.8,950 490.3,968"/>
<polygon points="580.9,898.6 601.9,898.6 591.4,916.6"/>
<polygon points="682.0,880 703.0,880 692.5,898"/>
<polygon points="783.1,866 804.1,866 793.6,884"/>
</g>
<g font-family="Liberation Sans, Arial, sans-serif" font-size="23.5" fill="#111">
<text x="145" y="973.8">- 63.4%</text>
<text x="242.5" y="845">- 32.4%</text>
<text x="348.5" y="905">- 47.9%</text>
<text x="443" y="934.3">- 50.7%</text>
<text x="547.5" y="888.7">- 41.2%</text>
<text x="657.5" y="870">- 38%</text>
<text x="748.5" y="857.5">- 35.3%</text>
</g>
<ellipse cx="1271" cy="870" rx="190.5" ry="185" fill="none" stroke="#1b2b2f" stroke-width="3.6"/>
<polygon points="1160.2,719.5 1153.8,735.9 1142.7,719.8" fill="#18282c" stroke="#18282c" stroke-width="1" stroke-linejoin="round"/>
<polygon points="1395.7,730.1 1378.3,728.3 1390.9,713.3" fill="#18282c" stroke="#18282c" stroke-width="1" stroke-linejoin="round"/>
<polygon points="1439.0,957.2 1437.4,939.8 1454.6,949.3" fill="#18282c" stroke="#18282c" stroke-width="1" stroke-linejoin="round"/>
<polygon points="1224.4,1049.4 1240.8,1043.3 1236.2,1062.3" fill="#18282c" stroke="#18282c" stroke-width="1" stroke-linejoin="round"/>
<polygon points="1080.6,877.0 1091.0,891.1 1071.4,891.9" fill="#18282c" stroke="#18282c" stroke-width="1" stroke-linejoin="round"/>
<use href="#mol1" transform="translate(1001.3,832.8)"/>
<use href="#mol" transform="translate(1268,639) scale(0.99)"/>
<use href="#mol" transform="translate(1504,755) scale(1.03)"/>
<use href="#mol" transform="translate(1462,1040) scale(0.95)"/>
<use href="#mol" transform="translate(1096,1045) scale(1.0)"/>
<circle cx="1264" cy="673" r="3.6" fill="url(#gO)"/><circle cx="1271" cy="675.5" r="3.6" fill="url(#gO)"/>
<circle cx="1500" cy="788" r="3.4" fill="url(#gO)"/><circle cx="1506.5" cy="784" r="3.4" fill="url(#gO)"/><circle cx="1496" cy="794" r="2.2" fill="url(#gH)"/>
<circle cx="1456.6" cy="1067" r="3.6" fill="url(#gO)"/>
<circle cx="1093.5" cy="1081.5" r="2.6" fill="url(#gH)"/><circle cx="1100" cy="1081.5" r="3.6" fill="url(#gO)"/>
<g font-family="Liberation Sans, Arial, sans-serif" font-size="14" fill="#555">
<text x="926" y="812">I</text><text x="1183" y="627">II</text><text x="1431" y="743">III</text><text x="1402" y="1023">IV</text><text x="1012" y="1037">V</text>
</g>
<path d="M1095,761.5 Q1114,761 1126,749" fill="none" stroke="#a8182a" stroke-width="4.5" stroke-linecap="round"/><polygon points="1132.5,741.4 1131.7,753.9 1120.3,744.1" fill="#b81c2c"/>
<path d="M1337,683 Q1342,705 1380,701" fill="none" stroke="#a8182a" stroke-width="4.5" stroke-linecap="round"/><polygon points="1389.9,699.5 1381.1,708.4 1378.9,693.6" fill="#b81c2c"/>
<path d="M1476,900 Q1450,912 1461,943" fill="none" stroke="#a8182a" stroke-width="4.5" stroke-linecap="round"/><polygon points="1463.4,952.7 1453.7,944.8 1468.3,941.2" fill="#b81c2c"/>
<path d="M1309,1068 Q1295,1045 1260,1065" fill="none" stroke="#a8182a" stroke-width="4.5" stroke-linecap="round"/><polygon points="1252.0,1071.0 1255.5,1059.0 1264.5,1071.0" fill="#b81c2c"/>
<path d="M1085,963 Q1096,935 1072,920" fill="none" stroke="#a8182a" stroke-width="4.5" stroke-linecap="round"/><polygon points="1064.0,914.0 1076.5,914.0 1067.5,926.0" fill="#b81c2c"/>
<g font-family="Liberation Sans, Arial, sans-serif" font-size="14.5" fill="#d33a44">
<text x="1076" y="767.5">O<tspan font-size="10" dy="4">2</tspan></text>
<text x="1319" y="675.5">H<tspan font-size="10" dy="4">2</tspan><tspan dy="-4">O+e</tspan><tspan font-size="10" dy="-6">-</tspan></text>
<text x="1395.5" y="700">OH<tspan font-size="10" dy="-6">-</tspan></text>
<text x="1473" y="894">III+e<tspan font-size="10" dy="-6">-</tspan></text>
<text x="1465" y="966">OH<tspan font-size="10" dy="-6">-</tspan></text>
<text x="1243" y="1092">OH<tspan font-size="10" dy="-6">-</tspan></text>
<text x="1299" y="1086.5">H<tspan font-size="10" dy="4">2</tspan><tspan dy="-4">O+e</tspan><tspan font-size="10" dy="-6">-</tspan></text>
<text x="1039" y="912">OH<tspan font-size="10" dy="-6">-</tspan></text>
<text x="1070.5" y="979">V+e<tspan font-size="10" dy="-6">-</tspan></text>
</g>
<circle cx="1545" cy="824.4" r="6.8" fill="url(#gCo)"/>
<text font-family="Liberation Sans, Arial, sans-serif" font-size="13.5" fill="#333" x="1558.5" y="828.3">Co</text>
<circle cx="1545" cy="848.8" r="6.8" fill="url(#gNi)"/>
<text font-family="Liberation Sans, Arial, sans-serif" font-size="13.5" fill="#333" x="1558.5" y="854">Ni</text>
<circle cx="1545" cy="874" r="6.8" fill="url(#gN)"/>
<text font-family="Liberation Sans, Arial, sans-serif" font-size="13.5" fill="#333" x="1558.5" y="878.5">N</text>
<circle cx="1545" cy="901.4" r="6.8" fill="url(#gC)"/>
<text font-family="Liberation Sans, Arial, sans-serif" font-size="13.5" fill="#333" x="1558.5" y="906">C</text>
<circle cx="1545" cy="926.5" r="6.8" fill="url(#gH)"/>
<text font-family="Liberation Sans, Arial, sans-serif" font-size="13.5" fill="#333" x="1558.5" y="931.4">H</text>
<circle cx="1545" cy="952.4" r="6.8" fill="url(#gO)"/>
<text font-family="Liberation Sans, Arial, sans-serif" font-size="13.5" fill="#333" x="1558.5" y="957">O</text>
<g fill="#fff" stroke="#222" stroke-width="1.8">
<rect x="1137.7" y="767.4" width="284" height="103.3"/>
<rect x="1137.7" y="876.4" width="283" height="96.9"/>
</g>
<g stroke="#333" stroke-width="1">
<line x1="1134.5" y1="767.4" x2="1137.7" y2="767.4"/>
<line x1="1134.5" y1="786" x2="1137.7" y2="786"/>
<line x1="1134.5" y1="804.6" x2="1137.7" y2="804.6"/>
<line x1="1134.5" y1="823" x2="1137.7" y2="823"/>
<line x1="1134.5" y1="841.4" x2="1137.7" y2="841.4"/>
<line x1="1134.5" y1="860" x2="1137.7" y2="860"/>
<line x1="1134.5" y1="888" x2="1137.7" y2="888"/>
<line x1="1134.5" y1="913" x2="1137.7" y2="913"/>
<line x1="1134.5" y1="938.4" x2="1137.7" y2="938.4"/>
<line x1="1134.5" y1="956" x2="1137.7" y2="956"/>
<line x1="1134.5" y1="973.3" x2="1137.7" y2="973.3"/>
</g>
<g font-family="Liberation Sans, Arial, sans-serif" font-size="9.5" fill="#444">
<text x="1133" y="770.6999999999999" text-anchor="end">10</text>
<text x="1133" y="807.9" text-anchor="end">5</text>
<text x="1133" y="844.6999999999999" text-anchor="end">0</text>
<text x="1133" y="891.3" text-anchor="end">5</text>
<text x="1133" y="941.6999999999999" text-anchor="end">0</text>
<text x="1133" y="976.5999999999999" text-anchor="end">−5</text>
<text x="1142" y="782">1.23 V</text>
<text x="1143" y="890">0 V</text>
<text x="1201.5" y="802.5">OOH*</text>
<text x="1276.5" y="816">O*</text>
<text x="1336" y="816">OH*</text>
<text x="1143" y="836.8">O<tspan font-size="6.5" dy="2">2</tspan></text>
<text x="1402.5" y="836.8">OH<tspan font-size="6.5" dy="-4">-</tspan></text>
<text x="1299" y="889.5">CoNi-C/N</text>
<text x="1299" y="906.3">Co-C/N</text>
<text x="1299" y="922">Ni-C/N</text>
<text x="1277" y="988" text-anchor="middle">Reaction coordinate</text>
<text transform="translate(1113.5,870.5) rotate(-90)" text-anchor="middle">Free energy (eV)</text>
</g>
<path d="M1160.3,841.4 L1201.6,831.5 M1227,831.5 L1267.2,845.3 M1291.6,845.3 L1332.8,855.2 M1357.2,855.2 L1396.4,841.4 " stroke="#111" stroke-width="1.2" stroke-dasharray="4,2.5" fill="none" opacity="0.85"/>
<path d="M1160.3,841.4 L1201.6,828.3 M1227,828.3 L1267.2,828.3 M1291.6,828.3 L1332.8,820.5 M1357.2,820.5 L1396.4,841.4 " stroke="#d0202a" stroke-width="1.2" stroke-dasharray="4,2.5" fill="none" opacity="0.85"/>
<path d="M1160.3,841.4 L1201.6,808.8 M1227,808.8 L1267.2,822 M1291.6,822 L1332.8,820.5 M1357.2,820.5 L1396.4,841.4 " stroke="#1d2aa0" stroke-width="1.2" stroke-dasharray="4,2.5" fill="none" opacity="0.85"/>
<line x1="1137.7" y1="841.4" x2="1160.3" y2="841.4" stroke="#111" stroke-width="2.6"/>
<line x1="1201.6" y1="831.5" x2="1227" y2="831.5" stroke="#111" stroke-width="2.6"/>
<line x1="1267.2" y1="845.3" x2="1291.6" y2="845.3" stroke="#111" stroke-width="2.6"/>
<line x1="1332.8" y1="855.2" x2="1357.2" y2="855.2" stroke="#111" stroke-width="2.6"/>
<line x1="1396.4" y1="841.4" x2="1421.8" y2="841.4" stroke="#111" stroke-width="2.6"/>
<line x1="1137.7" y1="841.4" x2="1160.3" y2="841.4" stroke="#d0202a" stroke-width="2.6"/>
<line x1="1201.6" y1="828.3" x2="1227" y2="828.3" stroke="#d0202a" stroke-width="2.6"/>
<line x1="1267.2" y1="828.3" x2="1291.6" y2="828.3" stroke="#d0202a" stroke-width="2.6"/>
<line x1="1332.8" y1="820.5" x2="1357.2" y2="820.5" stroke="#d0202a" stroke-width="2.6"/>
<line x1="1396.4" y1="841.4" x2="1421.8" y2="841.4" stroke="#d0202a" stroke-width="2.6"/>
<line x1="1137.7" y1="841.4" x2="1160.3" y2="841.4" stroke="#1d2aa0" stroke-width="2.6"/>
<line x1="1201.6" y1="808.8" x2="1227" y2="808.8" stroke="#1d2aa0" stroke-width="2.6"/>
<line x1="1267.2" y1="822" x2="1291.6" y2="822" stroke="#1d2aa0" stroke-width="2.6"/>
<line x1="1332.8" y1="820.5" x2="1357.2" y2="820.5" stroke="#1d2aa0" stroke-width="2.6"/>
<line x1="1396.4" y1="841.4" x2="1421.8" y2="841.4" stroke="#1d2aa0" stroke-width="2.6"/>
<path d="M1160.3,905.2 L1201.6,946.4 M1227,946.4 L1267.2,951 M1291.6,951 L1332.8,961.3 M1357.2,961.3 L1396.4,938.4 " stroke="#111" stroke-width="1.2" stroke-dasharray="4,2.5" fill="none" opacity="0.85"/>
<path d="M1160.3,905.2 L1201.6,948 M1227,948 L1267.2,953 M1291.6,953 L1332.8,966.3 M1357.2,966.3 L1396.4,938.4 " stroke="#d0202a" stroke-width="1.2" stroke-dasharray="4,2.5" fill="none" opacity="0.85"/>
<path d="M1160.3,905.2 L1201.6,917.7 M1227,917.7 L1267.2,949 M1291.6,949 L1332.8,966.3 M1357.2,966.3 L1396.4,938.4 " stroke="#1d2aa0" stroke-width="1.2" stroke-dasharray="4,2.5" fill="none" opacity="0.85"/>
<line x1="1137.7" y1="905.2" x2="1160.3" y2="905.2" stroke="#111" stroke-width="2.6"/>
<line x1="1201.6" y1="946.4" x2="1227" y2="946.4" stroke="#111" stroke-width="2.6"/>
<line x1="1267.2" y1="951" x2="1291.6" y2="951" stroke="#111" stroke-width="2.6"/>
<line x1="1332.8" y1="961.3" x2="1357.2" y2="961.3" stroke="#111" stroke-width="2.6"/>
<line x1="1396.4" y1="938.4" x2="1421.8" y2="938.4" stroke="#111" stroke-width="2.6"/>
<line x1="1137.7" y1="905.2" x2="1160.3" y2="905.2" stroke="#d0202a" stroke-width="2.6"/>
<line x1="1201.6" y1="948" x2="1227" y2="948" stroke="#d0202a" stroke-width="2.6"/>
<line x1="1267.2" y1="953" x2="1291.6" y2="953" stroke="#d0202a" stroke-width="2.6"/>
<line x1="1332.8" y1="966.3" x2="1357.2" y2="966.3" stroke="#d0202a" stroke-width="2.6"/>
<line x1="1396.4" y1="938.4" x2="1421.8" y2="938.4" stroke="#d0202a" stroke-width="2.6"/>
<line x1="1137.7" y1="905.2" x2="1160.3" y2="905.2" stroke="#1d2aa0" stroke-width="2.6"/>
<line x1="1201.6" y1="917.7" x2="1227" y2="917.7" stroke="#1d2aa0" stroke-width="2.6"/>
<line x1="1267.2" y1="949" x2="1291.6" y2="949" stroke="#1d2aa0" stroke-width="2.6"/>
<line x1="1332.8" y1="966.3" x2="1357.2" y2="966.3" stroke="#1d2aa0" stroke-width="2.6"/>
<line x1="1396.4" y1="938.4" x2="1421.8" y2="938.4" stroke="#1d2aa0" stroke-width="2.6"/>
<line x1="1259" y1="886" x2="1292.6" y2="886" stroke="#111" stroke-width="2.6"/>
<line x1="1259" y1="902.8" x2="1292.6" y2="902.8" stroke="#d0202a" stroke-width="2.6"/>
<line x1="1259" y1="918.7" x2="1292.6" y2="918.7" stroke="#1d2aa0" stroke-width="2.6"/>
<text font-family="Liberation Serif, Times New Roman, serif" font-size="45" fill="#000" x="78" y="47.7">(A)</text>
<text font-family="Liberation Serif, Times New Roman, serif" font-size="45" fill="#000" x="815.5" y="51.8">(B)</text>
<text font-family="Liberation Serif, Times New Roman, serif" font-size="45" fill="#000" x="25" y="651.5">(C)</text>
<text font-family="Liberation Serif, Times New Roman, serif" font-size="45" fill="#000" x="926.5" y="648.6">(D)</text>
</svg>
</body></html>
